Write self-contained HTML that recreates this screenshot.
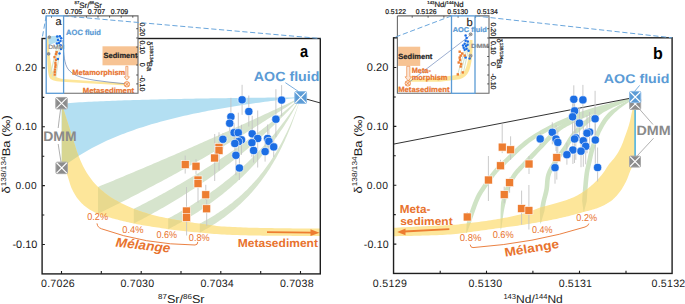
<!DOCTYPE html>
<html><head><meta charset="utf-8"><style>
html,body{margin:0;padding:0;background:#fff;}
body{width:685px;height:304px;overflow:hidden;}
svg{display:block;font-family:"Liberation Sans", sans-serif;text-rendering:geometricPrecision;}
</style></head><body>
<svg xmlns="http://www.w3.org/2000/svg" width="685" height="304" viewBox="0 0 685 304">
<rect width="685" height="304" fill="#fff"/>
<defs><clipPath id="clipA"><rect x="42.1" y="38.5" width="278.2" height="235.39999999999998"/></clipPath>
<clipPath id="blueAc"><path d="M61.50,103.60 L64.49,103.37 L67.48,103.15 L70.47,102.94 L73.46,102.74 L76.45,102.55 L79.44,102.37 L82.43,102.19 L85.42,102.02 L88.41,101.86 L91.40,101.71 L94.39,101.56 L97.38,101.42 L100.37,101.28 L103.36,101.15 L106.35,101.02 L109.34,100.90 L112.33,100.78 L115.32,100.67 L118.31,100.56 L121.30,100.45 L124.29,100.35 L127.28,100.25 L130.27,100.15 L133.26,100.06 L136.25,99.97 L139.24,99.88 L142.23,99.79 L145.22,99.71 L148.21,99.63 L151.20,99.55 L154.19,99.47 L157.18,99.40 L160.17,99.33 L163.16,99.26 L166.15,99.19 L169.14,99.12 L172.13,99.06 L175.12,99.00 L178.11,98.93 L181.10,98.88 L184.09,98.82 L187.08,98.76 L190.07,98.70 L193.06,98.65 L196.05,98.60 L199.04,98.55 L202.03,98.49 L205.02,98.45 L208.01,98.40 L211.00,98.35 L213.99,98.30 L216.98,98.26 L219.97,98.21 L222.96,98.17 L225.95,98.13 L228.94,98.09 L231.93,98.05 L234.92,98.01 L237.91,97.97 L240.90,97.93 L243.89,97.89 L246.88,97.86 L249.87,97.82 L252.86,97.78 L255.85,97.75 L258.84,97.72 L261.83,97.68 L264.82,97.65 L267.81,97.62 L270.80,97.59 L273.79,97.56 L276.78,97.52 L279.77,97.50 L282.76,97.47 L285.75,97.44 L288.74,97.41 L291.73,97.38 L294.72,97.35 L297.71,97.33 L300.70,97.30 L300.70,97.50 L297.71,97.83 L294.73,98.16 L291.74,98.50 L288.75,98.85 L285.76,99.20 L282.78,99.55 L279.79,99.91 L276.80,100.28 L273.81,100.66 L270.82,101.04 L267.84,101.42 L264.85,101.82 L261.86,102.22 L258.88,102.63 L255.89,103.04 L252.90,103.47 L249.91,103.90 L246.93,104.33 L243.94,104.78 L240.95,105.24 L237.96,105.70 L234.98,106.17 L231.99,106.65 L229.00,107.14 L226.01,107.64 L223.03,108.15 L220.04,108.67 L217.05,109.21 L214.06,109.75 L211.07,110.30 L208.09,110.86 L205.10,111.44 L202.11,112.03 L199.12,112.63 L196.14,113.24 L193.15,113.87 L190.16,114.51 L187.18,115.17 L184.19,115.84 L181.20,116.53 L178.21,117.23 L175.22,117.95 L172.24,118.68 L169.25,119.44 L166.26,120.21 L163.28,121.00 L160.29,121.81 L157.30,122.64 L154.31,123.50 L151.32,124.37 L148.34,125.27 L145.35,126.19 L142.36,127.14 L139.38,128.11 L136.39,129.11 L133.40,130.14 L130.41,131.19 L127.43,132.28 L124.44,133.40 L121.45,134.55 L118.46,135.74 L115.47,136.96 L112.49,138.23 L109.50,139.53 L106.51,140.87 L103.53,142.26 L100.54,143.70 L97.55,145.18 L94.56,146.72 L91.58,148.30 L88.59,149.95 L85.60,151.65 L82.61,153.42 L79.62,155.26 L76.64,157.16 L73.65,159.14 L70.66,161.20 L67.67,163.34 L64.69,165.57 L61.70,167.90 Z"/></clipPath>
<clipPath id="yelAc"><path d="M61.90,103.30 L61.91,103.34 L61.94,103.45 L61.99,103.64 L62.07,103.90 L62.16,104.24 L62.27,104.66 L62.41,105.14 L62.57,105.70 L62.74,106.33 L62.94,107.03 L63.16,107.80 L63.40,108.63 L63.66,109.52 L63.94,110.47 L64.24,111.47 L64.56,112.53 L64.91,113.64 L65.27,114.81 L65.66,116.03 L66.06,117.31 L66.49,118.65 L66.94,120.04 L67.41,121.51 L67.89,123.04 L68.40,124.65 L68.94,126.32 L69.49,128.06 L70.06,129.85 L70.65,131.71 L71.27,133.64 L71.90,135.62 L72.56,137.67 L73.23,139.79 L73.93,141.97 L74.65,144.21 L75.39,146.56 L76.15,149.04 L76.93,151.46 L77.73,153.63 L78.55,155.75 L79.39,157.86 L80.26,159.94 L81.14,161.98 L82.05,163.98 L82.97,165.92 L83.92,167.80 L84.89,169.59 L85.88,171.30 L86.89,172.93 L87.92,174.52 L88.97,176.07 L90.04,177.59 L91.13,179.06 L92.25,180.49 L93.38,181.88 L94.54,183.23 L95.71,184.54 L96.91,185.80 L98.13,187.02 L99.37,188.22 L100.62,189.38 L101.90,190.51 L103.21,191.62 L104.53,192.69 L105.87,193.74 L107.23,194.76 L108.62,195.75 L110.02,196.71 L111.45,197.65 L112.89,198.56 L114.36,199.44 L115.85,200.28 L117.36,201.10 L118.89,201.90 L120.44,202.68 L122.01,203.46 L123.60,204.23 L125.22,205.00 L126.85,205.78 L128.50,206.55 L130.18,207.30 L131.88,208.03 L133.59,208.72 L135.33,209.38 L137.09,210.04 L138.87,210.68 L140.67,211.31 L142.49,211.92 L144.33,212.52 L146.20,213.10 L148.08,213.66 L149.99,214.20 L151.91,214.71 L153.86,215.22 L155.82,215.70 L157.81,216.18 L159.82,216.64 L161.85,217.09 L163.90,217.53 L165.97,217.96 L168.06,218.37 L170.17,218.78 L172.31,219.18 L174.46,219.58 L176.64,219.97 L178.83,220.36 L181.05,220.74 L183.29,221.11 L185.55,221.48 L187.83,221.84 L190.12,222.20 L192.45,222.55 L194.79,222.89 L197.15,223.23 L199.53,223.56 L201.94,223.90 L204.36,224.24 L206.81,224.59 L209.27,224.93 L211.76,225.27 L214.27,225.59 L216.80,225.88 L219.35,226.15 L221.92,226.38 L224.51,226.57 L227.12,226.72 L229.75,226.86 L232.41,227.00 L235.08,227.12 L237.78,227.24 L240.49,227.35 L243.23,227.45 L245.99,227.55 L248.77,227.64 L251.57,227.71 L254.39,227.78 L257.23,227.85 L260.09,227.90 L262.97,227.95 L265.88,228.00 L268.80,228.05 L271.75,228.10 L274.71,228.15 L277.70,228.19 L280.71,228.24 L283.74,228.28 L286.79,228.32 L289.86,228.36 L292.95,228.40 L296.06,228.43 L299.19,228.47 L302.34,228.50 L305.52,228.52 L308.71,228.54 L311.93,228.56 L315.17,228.58 L318.42,228.59 L321.70,228.60 L325.00,228.60 L325.00,236.00 L321.70,236.00 L318.42,236.00 L315.16,235.99 L311.92,235.98 L308.70,235.97 L305.50,235.96 L302.33,235.94 L299.17,235.93 L296.04,235.91 L292.92,235.89 L289.83,235.87 L286.76,235.85 L283.70,235.82 L280.67,235.80 L277.66,235.77 L274.68,235.75 L271.71,235.72 L268.76,235.69 L265.83,235.66 L262.93,235.63 L260.04,235.60 L257.18,235.56 L254.33,235.52 L251.51,235.47 L248.71,235.40 L245.93,235.34 L243.17,235.26 L240.43,235.18 L237.71,235.09 L235.01,235.00 L232.34,234.90 L229.68,234.79 L227.05,234.69 L224.43,234.57 L221.84,234.44 L219.27,234.29 L216.72,234.11 L214.19,233.91 L211.68,233.70 L209.19,233.49 L206.72,233.26 L204.27,233.04 L201.84,232.81 L199.44,232.59 L197.05,232.37 L194.69,232.15 L192.34,231.92 L190.02,231.69 L187.72,231.45 L185.44,231.21 L183.18,230.97 L180.94,230.72 L178.72,230.46 L176.52,230.21 L174.35,229.94 L172.19,229.68 L170.06,229.40 L167.94,229.13 L165.85,228.83 L163.78,228.51 L161.73,228.18 L159.69,227.85 L157.68,227.52 L155.69,227.21 L153.73,226.91 L151.78,226.64 L149.85,226.36 L147.95,226.08 L146.06,225.78 L144.20,225.47 L142.35,225.15 L140.53,224.82 L138.73,224.49 L136.95,224.15 L135.19,223.80 L133.45,223.45 L131.73,223.08 L130.03,222.71 L128.36,222.33 L126.70,221.95 L125.06,221.56 L123.45,221.17 L121.86,220.77 L120.28,220.38 L118.73,219.99 L117.20,219.59 L115.69,219.20 L114.20,218.80 L112.73,218.40 L111.29,218.00 L109.86,217.59 L108.45,217.18 L107.07,216.77 L105.70,216.36 L104.36,215.96 L103.04,215.55 L101.74,215.14 L100.45,214.72 L99.19,214.26 L97.95,213.78 L96.74,213.27 L95.54,212.73 L94.36,212.17 L93.21,211.58 L92.07,210.97 L90.96,210.33 L89.86,209.68 L88.79,209.00 L87.74,208.29 L86.71,207.57 L85.70,206.81 L84.71,206.01 L83.74,205.18 L82.79,204.32 L81.86,203.42 L80.96,202.50 L80.07,201.54 L79.21,200.56 L78.36,199.56 L77.54,198.50 L76.74,197.39 L75.96,196.21 L75.20,195.00 L74.46,193.74 L73.74,192.45 L73.04,191.13 L72.36,189.79 L71.71,188.44 L71.07,187.01 L70.46,185.33 L69.87,183.49 L69.29,181.61 L68.74,179.75 L68.21,177.98 L67.70,176.37 L67.21,174.94 L66.74,173.72 L66.29,172.74 L65.87,172.00 L65.46,171.42 L65.07,170.90 L64.71,170.42 L64.37,169.98 L64.04,169.60 L63.74,169.27 L63.46,168.99 L63.20,168.74 L62.96,168.54 L62.74,168.38 L62.54,168.25 L62.37,168.15 L62.21,168.07 L62.07,168.01 L61.96,167.97 L61.87,167.94 L61.79,167.92 L61.74,167.91 L61.71,167.90 L61.70,167.90 Z"/></clipPath>
</defs>
<g clip-path="url(#clipA)">
<path d="M61.50,103.60 L64.49,103.37 L67.48,103.15 L70.47,102.94 L73.46,102.74 L76.45,102.55 L79.44,102.37 L82.43,102.19 L85.42,102.02 L88.41,101.86 L91.40,101.71 L94.39,101.56 L97.38,101.42 L100.37,101.28 L103.36,101.15 L106.35,101.02 L109.34,100.90 L112.33,100.78 L115.32,100.67 L118.31,100.56 L121.30,100.45 L124.29,100.35 L127.28,100.25 L130.27,100.15 L133.26,100.06 L136.25,99.97 L139.24,99.88 L142.23,99.79 L145.22,99.71 L148.21,99.63 L151.20,99.55 L154.19,99.47 L157.18,99.40 L160.17,99.33 L163.16,99.26 L166.15,99.19 L169.14,99.12 L172.13,99.06 L175.12,99.00 L178.11,98.93 L181.10,98.88 L184.09,98.82 L187.08,98.76 L190.07,98.70 L193.06,98.65 L196.05,98.60 L199.04,98.55 L202.03,98.49 L205.02,98.45 L208.01,98.40 L211.00,98.35 L213.99,98.30 L216.98,98.26 L219.97,98.21 L222.96,98.17 L225.95,98.13 L228.94,98.09 L231.93,98.05 L234.92,98.01 L237.91,97.97 L240.90,97.93 L243.89,97.89 L246.88,97.86 L249.87,97.82 L252.86,97.78 L255.85,97.75 L258.84,97.72 L261.83,97.68 L264.82,97.65 L267.81,97.62 L270.80,97.59 L273.79,97.56 L276.78,97.52 L279.77,97.50 L282.76,97.47 L285.75,97.44 L288.74,97.41 L291.73,97.38 L294.72,97.35 L297.71,97.33 L300.70,97.30 L300.70,97.50 L297.71,97.83 L294.73,98.16 L291.74,98.50 L288.75,98.85 L285.76,99.20 L282.78,99.55 L279.79,99.91 L276.80,100.28 L273.81,100.66 L270.82,101.04 L267.84,101.42 L264.85,101.82 L261.86,102.22 L258.88,102.63 L255.89,103.04 L252.90,103.47 L249.91,103.90 L246.93,104.33 L243.94,104.78 L240.95,105.24 L237.96,105.70 L234.98,106.17 L231.99,106.65 L229.00,107.14 L226.01,107.64 L223.03,108.15 L220.04,108.67 L217.05,109.21 L214.06,109.75 L211.07,110.30 L208.09,110.86 L205.10,111.44 L202.11,112.03 L199.12,112.63 L196.14,113.24 L193.15,113.87 L190.16,114.51 L187.18,115.17 L184.19,115.84 L181.20,116.53 L178.21,117.23 L175.22,117.95 L172.24,118.68 L169.25,119.44 L166.26,120.21 L163.28,121.00 L160.29,121.81 L157.30,122.64 L154.31,123.50 L151.32,124.37 L148.34,125.27 L145.35,126.19 L142.36,127.14 L139.38,128.11 L136.39,129.11 L133.40,130.14 L130.41,131.19 L127.43,132.28 L124.44,133.40 L121.45,134.55 L118.46,135.74 L115.47,136.96 L112.49,138.23 L109.50,139.53 L106.51,140.87 L103.53,142.26 L100.54,143.70 L97.55,145.18 L94.56,146.72 L91.58,148.30 L88.59,149.95 L85.60,151.65 L82.61,153.42 L79.62,155.26 L76.64,157.16 L73.65,159.14 L70.66,161.20 L67.67,163.34 L64.69,165.57 L61.70,167.90 Z" fill="#b3dff2"/>
<path d="M98.00,186.90 L100.53,185.86 L103.07,184.82 L105.60,183.77 L108.14,182.73 L110.67,181.68 L113.20,180.63 L115.74,179.58 L118.27,178.53 L120.80,177.47 L123.34,176.42 L125.87,175.36 L128.41,174.30 L130.94,173.23 L133.47,172.17 L136.01,171.10 L138.54,170.04 L141.07,168.97 L143.61,167.89 L146.14,166.82 L148.68,165.74 L151.21,164.67 L153.74,163.59 L156.28,162.51 L158.81,161.42 L161.34,160.34 L163.88,159.25 L166.41,158.16 L168.94,157.07 L171.48,155.98 L174.01,154.88 L176.55,153.78 L179.08,152.69 L181.61,151.58 L184.15,150.48 L186.68,149.38 L189.22,148.27 L191.75,147.16 L194.28,146.05 L196.82,144.94 L199.35,143.82 L201.88,142.70 L204.42,141.59 L206.95,140.46 L209.49,139.34 L212.02,138.22 L214.55,137.09 L217.09,135.96 L219.62,134.83 L222.15,133.69 L224.69,132.56 L227.22,131.42 L229.75,130.28 L232.29,129.14 L234.82,128.00 L237.36,126.85 L239.89,125.70 L242.42,124.55 L244.96,123.40 L247.49,122.24 L250.02,121.09 L252.56,119.93 L255.09,118.77 L257.63,117.61 L260.16,116.44 L262.69,115.27 L265.23,114.10 L267.76,112.93 L270.29,111.76 L272.83,110.58 L275.36,109.40 L277.90,108.22 L280.43,107.04 L282.96,105.86 L285.50,104.67 L288.03,103.48 L290.56,102.29 L293.10,101.09 L295.63,99.90 L298.17,98.70 L300.70,97.50 L300.70,97.50 L298.17,99.21 L295.63,100.91 L293.10,102.60 L290.56,104.28 L288.03,105.96 L285.50,107.63 L282.96,109.29 L280.43,110.95 L277.90,112.59 L275.36,114.23 L272.83,115.87 L270.29,117.49 L267.76,119.11 L265.23,120.73 L262.69,122.33 L260.16,123.93 L257.63,125.52 L255.09,127.11 L252.56,128.69 L250.02,130.26 L247.49,131.83 L244.96,133.38 L242.42,134.94 L239.89,136.48 L237.36,138.02 L234.82,139.56 L232.29,141.08 L229.75,142.60 L227.22,144.12 L224.69,145.62 L222.15,147.13 L219.62,148.62 L217.09,150.11 L214.55,151.59 L212.02,153.07 L209.49,154.54 L206.95,156.01 L204.42,157.46 L201.88,158.92 L199.35,160.36 L196.82,161.81 L194.28,163.24 L191.75,164.67 L189.22,166.10 L186.68,167.51 L184.15,168.93 L181.61,170.33 L179.08,171.73 L176.55,173.13 L174.01,174.52 L171.48,175.90 L168.94,177.28 L166.41,178.66 L163.88,180.03 L161.34,181.39 L158.81,182.75 L156.28,184.10 L153.74,185.45 L151.21,186.79 L148.68,188.12 L146.14,189.45 L143.61,190.78 L141.07,192.10 L138.54,193.42 L136.01,194.73 L133.47,196.03 L130.94,197.33 L128.41,198.63 L125.87,199.92 L123.34,201.21 L120.80,202.49 L118.27,203.76 L115.74,205.04 L113.20,206.30 L110.67,207.56 L108.14,208.82 L105.60,210.07 L103.07,211.32 L100.53,212.56 L98.00,213.80 Z" fill="#d6e4cd"/>
<path d="M133.80,208.80 L135.89,207.75 L137.97,206.70 L140.06,205.64 L142.15,204.57 L144.23,203.50 L146.32,202.42 L148.40,201.33 L150.49,200.24 L152.58,199.14 L154.66,198.03 L156.75,196.91 L158.84,195.79 L160.92,194.66 L163.01,193.52 L165.09,192.38 L167.18,191.23 L169.27,190.07 L171.35,188.90 L173.44,187.72 L175.53,186.54 L177.61,185.35 L179.70,184.15 L181.78,182.94 L183.87,181.73 L185.96,180.50 L188.04,179.27 L190.13,178.03 L192.22,176.78 L194.30,175.52 L196.39,174.26 L198.47,172.98 L200.56,171.70 L202.65,170.41 L204.73,169.11 L206.82,167.79 L208.91,166.47 L210.99,165.15 L213.08,163.81 L215.16,162.46 L217.25,161.10 L219.34,159.73 L221.42,158.35 L223.51,156.97 L225.60,155.57 L227.68,154.16 L229.77,152.74 L231.85,151.32 L233.94,149.88 L236.03,148.43 L238.11,146.97 L240.20,145.50 L242.28,144.01 L244.37,142.52 L246.46,141.02 L248.54,139.50 L250.63,137.97 L252.72,136.43 L254.80,134.88 L256.89,133.32 L258.98,131.75 L261.06,130.16 L263.15,128.56 L265.23,126.95 L267.32,125.32 L269.41,123.69 L271.49,122.04 L273.58,120.38 L275.66,118.70 L277.75,117.01 L279.84,115.31 L281.92,113.59 L284.01,111.86 L286.10,110.12 L288.18,108.36 L290.27,106.59 L292.36,104.80 L294.44,103.00 L296.53,101.18 L298.61,99.35 L300.70,97.50 L300.70,97.50 L298.61,99.80 L296.53,102.08 L294.44,104.33 L292.36,106.55 L290.27,108.75 L288.18,110.93 L286.10,113.07 L284.01,115.20 L281.92,117.30 L279.84,119.38 L277.75,121.43 L275.66,123.47 L273.58,125.48 L271.49,127.46 L269.41,129.43 L267.32,131.38 L265.23,133.30 L263.15,135.20 L261.06,137.09 L258.98,138.95 L256.89,140.80 L254.80,142.62 L252.72,144.43 L250.63,146.22 L248.54,147.99 L246.46,149.74 L244.37,151.47 L242.28,153.19 L240.20,154.89 L238.11,156.57 L236.03,158.24 L233.94,159.89 L231.85,161.52 L229.77,163.13 L227.68,164.74 L225.60,166.32 L223.51,167.89 L221.42,169.45 L219.34,170.99 L217.25,172.51 L215.16,174.02 L213.08,175.52 L210.99,177.00 L208.91,178.47 L206.82,179.92 L204.73,181.37 L202.65,182.79 L200.56,184.21 L198.47,185.61 L196.39,187.00 L194.30,188.38 L192.22,189.74 L190.13,191.10 L188.04,192.44 L185.96,193.76 L183.87,195.08 L181.78,196.39 L179.70,197.68 L177.61,198.96 L175.53,200.23 L173.44,201.49 L171.35,202.74 L169.27,203.98 L167.18,205.21 L165.09,206.43 L163.01,207.63 L160.92,208.83 L158.84,210.02 L156.75,211.19 L154.66,212.36 L152.58,213.52 L150.49,214.67 L148.40,215.80 L146.32,216.93 L144.23,218.05 L142.15,219.16 L140.06,220.27 L137.97,221.36 L135.89,222.44 L133.80,223.52 Z" fill="#d6e4cd"/>
<path d="M168.20,218.40 L169.86,217.52 L171.51,216.63 L173.17,215.73 L174.82,214.82 L176.48,213.90 L178.14,212.97 L179.79,212.03 L181.45,211.08 L183.11,210.12 L184.76,209.15 L186.42,208.17 L188.07,207.17 L189.73,206.17 L191.39,205.16 L193.04,204.13 L194.70,203.09 L196.36,202.04 L198.01,200.98 L199.67,199.90 L201.32,198.81 L202.98,197.71 L204.64,196.60 L206.29,195.47 L207.95,194.33 L209.61,193.18 L211.26,192.01 L212.92,190.83 L214.57,189.63 L216.23,188.42 L217.89,187.19 L219.54,185.95 L221.20,184.69 L222.86,183.41 L224.51,182.12 L226.17,180.82 L227.82,179.49 L229.48,178.15 L231.14,176.79 L232.79,175.41 L234.45,174.02 L236.11,172.61 L237.76,171.17 L239.42,169.72 L241.07,168.25 L242.73,166.76 L244.39,165.24 L246.04,163.71 L247.70,162.15 L249.36,160.57 L251.01,158.97 L252.67,157.35 L254.32,155.70 L255.98,154.03 L257.64,152.34 L259.29,150.62 L260.95,148.87 L262.61,147.10 L264.26,145.30 L265.92,143.48 L267.57,141.62 L269.23,139.74 L270.89,137.83 L272.54,135.89 L274.20,133.92 L275.86,131.91 L277.51,129.88 L279.17,127.81 L280.82,125.70 L282.48,123.57 L284.14,121.39 L285.79,119.18 L287.45,116.94 L289.11,114.65 L290.76,112.33 L292.42,109.96 L294.07,107.56 L295.73,105.11 L297.39,102.62 L299.04,100.08 L300.70,97.50 L300.70,97.50 L299.04,100.63 L297.39,103.69 L295.73,106.68 L294.07,109.60 L292.42,112.46 L290.76,115.26 L289.11,118.00 L287.45,120.68 L285.79,123.30 L284.14,125.88 L282.48,128.39 L280.82,130.86 L279.17,133.28 L277.51,135.65 L275.86,137.97 L274.20,140.25 L272.54,142.48 L270.89,144.67 L269.23,146.82 L267.57,148.93 L265.92,151.00 L264.26,153.03 L262.61,155.03 L260.95,156.99 L259.29,158.91 L257.64,160.80 L255.98,162.65 L254.32,164.48 L252.67,166.27 L251.01,168.03 L249.36,169.76 L247.70,171.47 L246.04,173.14 L244.39,174.79 L242.73,176.41 L241.07,178.00 L239.42,179.57 L237.76,181.11 L236.11,182.63 L234.45,184.12 L232.79,185.59 L231.14,187.04 L229.48,188.46 L227.82,189.86 L226.17,191.25 L224.51,192.61 L222.86,193.95 L221.20,195.27 L219.54,196.57 L217.89,197.85 L216.23,199.11 L214.57,200.36 L212.92,201.59 L211.26,202.80 L209.61,203.99 L207.95,205.17 L206.29,206.33 L204.64,207.47 L202.98,208.60 L201.32,209.71 L199.67,210.81 L198.01,211.89 L196.36,212.96 L194.70,214.01 L193.04,215.05 L191.39,216.08 L189.73,217.09 L188.07,218.09 L186.42,219.08 L184.76,220.06 L183.11,221.02 L181.45,221.97 L179.79,222.91 L178.14,223.83 L176.48,224.75 L174.82,225.65 L173.17,226.55 L171.51,227.43 L169.86,228.30 L168.20,229.16 Z" fill="#d6e4cd"/>
<path d="M199.80,223.60 L201.06,222.93 L202.32,222.26 L203.58,221.57 L204.84,220.87 L206.11,220.17 L207.37,219.45 L208.63,218.72 L209.89,217.98 L211.15,217.23 L212.41,216.46 L213.67,215.69 L214.94,214.90 L216.20,214.10 L217.46,213.28 L218.72,212.46 L219.98,211.62 L221.24,210.76 L222.50,209.90 L223.76,209.01 L225.03,208.11 L226.29,207.20 L227.55,206.27 L228.81,205.33 L230.07,204.36 L231.33,203.39 L232.59,202.39 L233.85,201.37 L235.12,200.34 L236.38,199.29 L237.64,198.22 L238.90,197.13 L240.16,196.02 L241.42,194.88 L242.68,193.73 L243.94,192.55 L245.21,191.35 L246.47,190.13 L247.73,188.88 L248.99,187.60 L250.25,186.30 L251.51,184.98 L252.77,183.62 L254.03,182.24 L255.30,180.83 L256.56,179.38 L257.82,177.91 L259.08,176.40 L260.34,174.86 L261.60,173.29 L262.86,171.68 L264.12,170.03 L265.38,168.34 L266.65,166.62 L267.91,164.85 L269.17,163.04 L270.43,161.19 L271.69,159.29 L272.95,157.34 L274.21,155.34 L275.48,153.30 L276.74,151.20 L278.00,149.04 L279.26,146.83 L280.52,144.55 L281.78,142.22 L283.04,139.82 L284.30,137.35 L285.56,134.81 L286.83,132.19 L288.09,129.51 L289.35,126.73 L290.61,123.88 L291.87,120.94 L293.13,117.90 L294.39,114.77 L295.65,111.54 L296.92,108.20 L298.18,104.76 L299.44,101.19 L300.70,97.50 L300.70,97.50 L299.44,101.65 L298.18,105.64 L296.92,109.49 L295.65,113.21 L294.39,116.80 L293.13,120.27 L291.87,123.63 L290.61,126.88 L289.35,130.02 L288.09,133.06 L286.83,136.01 L285.56,138.87 L284.30,141.64 L283.04,144.33 L281.78,146.94 L280.52,149.47 L279.26,151.94 L278.00,154.33 L276.74,156.66 L275.48,158.92 L274.21,161.12 L272.95,163.27 L271.69,165.36 L270.43,167.39 L269.17,169.38 L267.91,171.31 L266.65,173.19 L265.38,175.03 L264.12,176.83 L262.86,178.58 L261.60,180.29 L260.34,181.95 L259.08,183.58 L257.82,185.18 L256.56,186.74 L255.30,188.26 L254.03,189.75 L252.77,191.20 L251.51,192.63 L250.25,194.02 L248.99,195.38 L247.73,196.72 L246.47,198.03 L245.21,199.31 L243.94,200.56 L242.68,201.79 L241.42,203.00 L240.16,204.18 L238.90,205.34 L237.64,206.47 L236.38,207.59 L235.12,208.68 L233.85,209.75 L232.59,210.81 L231.33,211.84 L230.07,212.85 L228.81,213.85 L227.55,214.83 L226.29,215.79 L225.03,216.73 L223.76,217.66 L222.50,218.57 L221.24,219.46 L219.98,220.34 L218.72,221.21 L217.46,222.06 L216.20,222.90 L214.94,223.72 L213.67,224.53 L212.41,225.32 L211.15,226.11 L209.89,226.88 L208.63,227.64 L207.37,228.38 L206.11,229.12 L204.84,229.84 L203.58,230.55 L202.32,231.26 L201.06,231.95 L199.80,232.63 Z" fill="#d6e4cd"/>
<path d="M61.90,103.30 L61.91,103.34 L61.94,103.45 L61.99,103.64 L62.07,103.90 L62.16,104.24 L62.27,104.66 L62.41,105.14 L62.57,105.70 L62.74,106.33 L62.94,107.03 L63.16,107.80 L63.40,108.63 L63.66,109.52 L63.94,110.47 L64.24,111.47 L64.56,112.53 L64.91,113.64 L65.27,114.81 L65.66,116.03 L66.06,117.31 L66.49,118.65 L66.94,120.04 L67.41,121.51 L67.89,123.04 L68.40,124.65 L68.94,126.32 L69.49,128.06 L70.06,129.85 L70.65,131.71 L71.27,133.64 L71.90,135.62 L72.56,137.67 L73.23,139.79 L73.93,141.97 L74.65,144.21 L75.39,146.56 L76.15,149.04 L76.93,151.46 L77.73,153.63 L78.55,155.75 L79.39,157.86 L80.26,159.94 L81.14,161.98 L82.05,163.98 L82.97,165.92 L83.92,167.80 L84.89,169.59 L85.88,171.30 L86.89,172.93 L87.92,174.52 L88.97,176.07 L90.04,177.59 L91.13,179.06 L92.25,180.49 L93.38,181.88 L94.54,183.23 L95.71,184.54 L96.91,185.80 L98.13,187.02 L99.37,188.22 L100.62,189.38 L101.90,190.51 L103.21,191.62 L104.53,192.69 L105.87,193.74 L107.23,194.76 L108.62,195.75 L110.02,196.71 L111.45,197.65 L112.89,198.56 L114.36,199.44 L115.85,200.28 L117.36,201.10 L118.89,201.90 L120.44,202.68 L122.01,203.46 L123.60,204.23 L125.22,205.00 L126.85,205.78 L128.50,206.55 L130.18,207.30 L131.88,208.03 L133.59,208.72 L135.33,209.38 L137.09,210.04 L138.87,210.68 L140.67,211.31 L142.49,211.92 L144.33,212.52 L146.20,213.10 L148.08,213.66 L149.99,214.20 L151.91,214.71 L153.86,215.22 L155.82,215.70 L157.81,216.18 L159.82,216.64 L161.85,217.09 L163.90,217.53 L165.97,217.96 L168.06,218.37 L170.17,218.78 L172.31,219.18 L174.46,219.58 L176.64,219.97 L178.83,220.36 L181.05,220.74 L183.29,221.11 L185.55,221.48 L187.83,221.84 L190.12,222.20 L192.45,222.55 L194.79,222.89 L197.15,223.23 L199.53,223.56 L201.94,223.90 L204.36,224.24 L206.81,224.59 L209.27,224.93 L211.76,225.27 L214.27,225.59 L216.80,225.88 L219.35,226.15 L221.92,226.38 L224.51,226.57 L227.12,226.72 L229.75,226.86 L232.41,227.00 L235.08,227.12 L237.78,227.24 L240.49,227.35 L243.23,227.45 L245.99,227.55 L248.77,227.64 L251.57,227.71 L254.39,227.78 L257.23,227.85 L260.09,227.90 L262.97,227.95 L265.88,228.00 L268.80,228.05 L271.75,228.10 L274.71,228.15 L277.70,228.19 L280.71,228.24 L283.74,228.28 L286.79,228.32 L289.86,228.36 L292.95,228.40 L296.06,228.43 L299.19,228.47 L302.34,228.50 L305.52,228.52 L308.71,228.54 L311.93,228.56 L315.17,228.58 L318.42,228.59 L321.70,228.60 L325.00,228.60 L325.00,236.00 L321.70,236.00 L318.42,236.00 L315.16,235.99 L311.92,235.98 L308.70,235.97 L305.50,235.96 L302.33,235.94 L299.17,235.93 L296.04,235.91 L292.92,235.89 L289.83,235.87 L286.76,235.85 L283.70,235.82 L280.67,235.80 L277.66,235.77 L274.68,235.75 L271.71,235.72 L268.76,235.69 L265.83,235.66 L262.93,235.63 L260.04,235.60 L257.18,235.56 L254.33,235.52 L251.51,235.47 L248.71,235.40 L245.93,235.34 L243.17,235.26 L240.43,235.18 L237.71,235.09 L235.01,235.00 L232.34,234.90 L229.68,234.79 L227.05,234.69 L224.43,234.57 L221.84,234.44 L219.27,234.29 L216.72,234.11 L214.19,233.91 L211.68,233.70 L209.19,233.49 L206.72,233.26 L204.27,233.04 L201.84,232.81 L199.44,232.59 L197.05,232.37 L194.69,232.15 L192.34,231.92 L190.02,231.69 L187.72,231.45 L185.44,231.21 L183.18,230.97 L180.94,230.72 L178.72,230.46 L176.52,230.21 L174.35,229.94 L172.19,229.68 L170.06,229.40 L167.94,229.13 L165.85,228.83 L163.78,228.51 L161.73,228.18 L159.69,227.85 L157.68,227.52 L155.69,227.21 L153.73,226.91 L151.78,226.64 L149.85,226.36 L147.95,226.08 L146.06,225.78 L144.20,225.47 L142.35,225.15 L140.53,224.82 L138.73,224.49 L136.95,224.15 L135.19,223.80 L133.45,223.45 L131.73,223.08 L130.03,222.71 L128.36,222.33 L126.70,221.95 L125.06,221.56 L123.45,221.17 L121.86,220.77 L120.28,220.38 L118.73,219.99 L117.20,219.59 L115.69,219.20 L114.20,218.80 L112.73,218.40 L111.29,218.00 L109.86,217.59 L108.45,217.18 L107.07,216.77 L105.70,216.36 L104.36,215.96 L103.04,215.55 L101.74,215.14 L100.45,214.72 L99.19,214.26 L97.95,213.78 L96.74,213.27 L95.54,212.73 L94.36,212.17 L93.21,211.58 L92.07,210.97 L90.96,210.33 L89.86,209.68 L88.79,209.00 L87.74,208.29 L86.71,207.57 L85.70,206.81 L84.71,206.01 L83.74,205.18 L82.79,204.32 L81.86,203.42 L80.96,202.50 L80.07,201.54 L79.21,200.56 L78.36,199.56 L77.54,198.50 L76.74,197.39 L75.96,196.21 L75.20,195.00 L74.46,193.74 L73.74,192.45 L73.04,191.13 L72.36,189.79 L71.71,188.44 L71.07,187.01 L70.46,185.33 L69.87,183.49 L69.29,181.61 L68.74,179.75 L68.21,177.98 L67.70,176.37 L67.21,174.94 L66.74,173.72 L66.29,172.74 L65.87,172.00 L65.46,171.42 L65.07,170.90 L64.71,170.42 L64.37,169.98 L64.04,169.60 L63.74,169.27 L63.46,168.99 L63.20,168.74 L62.96,168.54 L62.74,168.38 L62.54,168.25 L62.37,168.15 L62.21,168.07 L62.07,168.01 L61.96,167.97 L61.87,167.94 L61.79,167.92 L61.74,167.91 L61.71,167.90 L61.70,167.90 Z" fill="#fde69a"/>
<g clip-path="url(#yelAc)">
<path d="M61.50,103.60 L64.49,103.37 L67.48,103.15 L70.47,102.94 L73.46,102.74 L76.45,102.55 L79.44,102.37 L82.43,102.19 L85.42,102.02 L88.41,101.86 L91.40,101.71 L94.39,101.56 L97.38,101.42 L100.37,101.28 L103.36,101.15 L106.35,101.02 L109.34,100.90 L112.33,100.78 L115.32,100.67 L118.31,100.56 L121.30,100.45 L124.29,100.35 L127.28,100.25 L130.27,100.15 L133.26,100.06 L136.25,99.97 L139.24,99.88 L142.23,99.79 L145.22,99.71 L148.21,99.63 L151.20,99.55 L154.19,99.47 L157.18,99.40 L160.17,99.33 L163.16,99.26 L166.15,99.19 L169.14,99.12 L172.13,99.06 L175.12,99.00 L178.11,98.93 L181.10,98.88 L184.09,98.82 L187.08,98.76 L190.07,98.70 L193.06,98.65 L196.05,98.60 L199.04,98.55 L202.03,98.49 L205.02,98.45 L208.01,98.40 L211.00,98.35 L213.99,98.30 L216.98,98.26 L219.97,98.21 L222.96,98.17 L225.95,98.13 L228.94,98.09 L231.93,98.05 L234.92,98.01 L237.91,97.97 L240.90,97.93 L243.89,97.89 L246.88,97.86 L249.87,97.82 L252.86,97.78 L255.85,97.75 L258.84,97.72 L261.83,97.68 L264.82,97.65 L267.81,97.62 L270.80,97.59 L273.79,97.56 L276.78,97.52 L279.77,97.50 L282.76,97.47 L285.75,97.44 L288.74,97.41 L291.73,97.38 L294.72,97.35 L297.71,97.33 L300.70,97.30 L300.70,97.50 L297.71,97.83 L294.73,98.16 L291.74,98.50 L288.75,98.85 L285.76,99.20 L282.78,99.55 L279.79,99.91 L276.80,100.28 L273.81,100.66 L270.82,101.04 L267.84,101.42 L264.85,101.82 L261.86,102.22 L258.88,102.63 L255.89,103.04 L252.90,103.47 L249.91,103.90 L246.93,104.33 L243.94,104.78 L240.95,105.24 L237.96,105.70 L234.98,106.17 L231.99,106.65 L229.00,107.14 L226.01,107.64 L223.03,108.15 L220.04,108.67 L217.05,109.21 L214.06,109.75 L211.07,110.30 L208.09,110.86 L205.10,111.44 L202.11,112.03 L199.12,112.63 L196.14,113.24 L193.15,113.87 L190.16,114.51 L187.18,115.17 L184.19,115.84 L181.20,116.53 L178.21,117.23 L175.22,117.95 L172.24,118.68 L169.25,119.44 L166.26,120.21 L163.28,121.00 L160.29,121.81 L157.30,122.64 L154.31,123.50 L151.32,124.37 L148.34,125.27 L145.35,126.19 L142.36,127.14 L139.38,128.11 L136.39,129.11 L133.40,130.14 L130.41,131.19 L127.43,132.28 L124.44,133.40 L121.45,134.55 L118.46,135.74 L115.47,136.96 L112.49,138.23 L109.50,139.53 L106.51,140.87 L103.53,142.26 L100.54,143.70 L97.55,145.18 L94.56,146.72 L91.58,148.30 L88.59,149.95 L85.60,151.65 L82.61,153.42 L79.62,155.26 L76.64,157.16 L73.65,159.14 L70.66,161.20 L67.67,163.34 L64.69,165.57 L61.70,167.90 Z" fill="#d7d692"/>
<path d="M98.00,186.90 L100.53,185.86 L103.07,184.82 L105.60,183.77 L108.14,182.73 L110.67,181.68 L113.20,180.63 L115.74,179.58 L118.27,178.53 L120.80,177.47 L123.34,176.42 L125.87,175.36 L128.41,174.30 L130.94,173.23 L133.47,172.17 L136.01,171.10 L138.54,170.04 L141.07,168.97 L143.61,167.89 L146.14,166.82 L148.68,165.74 L151.21,164.67 L153.74,163.59 L156.28,162.51 L158.81,161.42 L161.34,160.34 L163.88,159.25 L166.41,158.16 L168.94,157.07 L171.48,155.98 L174.01,154.88 L176.55,153.78 L179.08,152.69 L181.61,151.58 L184.15,150.48 L186.68,149.38 L189.22,148.27 L191.75,147.16 L194.28,146.05 L196.82,144.94 L199.35,143.82 L201.88,142.70 L204.42,141.59 L206.95,140.46 L209.49,139.34 L212.02,138.22 L214.55,137.09 L217.09,135.96 L219.62,134.83 L222.15,133.69 L224.69,132.56 L227.22,131.42 L229.75,130.28 L232.29,129.14 L234.82,128.00 L237.36,126.85 L239.89,125.70 L242.42,124.55 L244.96,123.40 L247.49,122.24 L250.02,121.09 L252.56,119.93 L255.09,118.77 L257.63,117.61 L260.16,116.44 L262.69,115.27 L265.23,114.10 L267.76,112.93 L270.29,111.76 L272.83,110.58 L275.36,109.40 L277.90,108.22 L280.43,107.04 L282.96,105.86 L285.50,104.67 L288.03,103.48 L290.56,102.29 L293.10,101.09 L295.63,99.90 L298.17,98.70 L300.70,97.50 L300.70,97.50 L298.17,99.21 L295.63,100.91 L293.10,102.60 L290.56,104.28 L288.03,105.96 L285.50,107.63 L282.96,109.29 L280.43,110.95 L277.90,112.59 L275.36,114.23 L272.83,115.87 L270.29,117.49 L267.76,119.11 L265.23,120.73 L262.69,122.33 L260.16,123.93 L257.63,125.52 L255.09,127.11 L252.56,128.69 L250.02,130.26 L247.49,131.83 L244.96,133.38 L242.42,134.94 L239.89,136.48 L237.36,138.02 L234.82,139.56 L232.29,141.08 L229.75,142.60 L227.22,144.12 L224.69,145.62 L222.15,147.13 L219.62,148.62 L217.09,150.11 L214.55,151.59 L212.02,153.07 L209.49,154.54 L206.95,156.01 L204.42,157.46 L201.88,158.92 L199.35,160.36 L196.82,161.81 L194.28,163.24 L191.75,164.67 L189.22,166.10 L186.68,167.51 L184.15,168.93 L181.61,170.33 L179.08,171.73 L176.55,173.13 L174.01,174.52 L171.48,175.90 L168.94,177.28 L166.41,178.66 L163.88,180.03 L161.34,181.39 L158.81,182.75 L156.28,184.10 L153.74,185.45 L151.21,186.79 L148.68,188.12 L146.14,189.45 L143.61,190.78 L141.07,192.10 L138.54,193.42 L136.01,194.73 L133.47,196.03 L130.94,197.33 L128.41,198.63 L125.87,199.92 L123.34,201.21 L120.80,202.49 L118.27,203.76 L115.74,205.04 L113.20,206.30 L110.67,207.56 L108.14,208.82 L105.60,210.07 L103.07,211.32 L100.53,212.56 L98.00,213.80 Z" fill="#e8d98e"/>
<path d="M133.80,208.80 L135.89,207.75 L137.97,206.70 L140.06,205.64 L142.15,204.57 L144.23,203.50 L146.32,202.42 L148.40,201.33 L150.49,200.24 L152.58,199.14 L154.66,198.03 L156.75,196.91 L158.84,195.79 L160.92,194.66 L163.01,193.52 L165.09,192.38 L167.18,191.23 L169.27,190.07 L171.35,188.90 L173.44,187.72 L175.53,186.54 L177.61,185.35 L179.70,184.15 L181.78,182.94 L183.87,181.73 L185.96,180.50 L188.04,179.27 L190.13,178.03 L192.22,176.78 L194.30,175.52 L196.39,174.26 L198.47,172.98 L200.56,171.70 L202.65,170.41 L204.73,169.11 L206.82,167.79 L208.91,166.47 L210.99,165.15 L213.08,163.81 L215.16,162.46 L217.25,161.10 L219.34,159.73 L221.42,158.35 L223.51,156.97 L225.60,155.57 L227.68,154.16 L229.77,152.74 L231.85,151.32 L233.94,149.88 L236.03,148.43 L238.11,146.97 L240.20,145.50 L242.28,144.01 L244.37,142.52 L246.46,141.02 L248.54,139.50 L250.63,137.97 L252.72,136.43 L254.80,134.88 L256.89,133.32 L258.98,131.75 L261.06,130.16 L263.15,128.56 L265.23,126.95 L267.32,125.32 L269.41,123.69 L271.49,122.04 L273.58,120.38 L275.66,118.70 L277.75,117.01 L279.84,115.31 L281.92,113.59 L284.01,111.86 L286.10,110.12 L288.18,108.36 L290.27,106.59 L292.36,104.80 L294.44,103.00 L296.53,101.18 L298.61,99.35 L300.70,97.50 L300.70,97.50 L298.61,99.80 L296.53,102.08 L294.44,104.33 L292.36,106.55 L290.27,108.75 L288.18,110.93 L286.10,113.07 L284.01,115.20 L281.92,117.30 L279.84,119.38 L277.75,121.43 L275.66,123.47 L273.58,125.48 L271.49,127.46 L269.41,129.43 L267.32,131.38 L265.23,133.30 L263.15,135.20 L261.06,137.09 L258.98,138.95 L256.89,140.80 L254.80,142.62 L252.72,144.43 L250.63,146.22 L248.54,147.99 L246.46,149.74 L244.37,151.47 L242.28,153.19 L240.20,154.89 L238.11,156.57 L236.03,158.24 L233.94,159.89 L231.85,161.52 L229.77,163.13 L227.68,164.74 L225.60,166.32 L223.51,167.89 L221.42,169.45 L219.34,170.99 L217.25,172.51 L215.16,174.02 L213.08,175.52 L210.99,177.00 L208.91,178.47 L206.82,179.92 L204.73,181.37 L202.65,182.79 L200.56,184.21 L198.47,185.61 L196.39,187.00 L194.30,188.38 L192.22,189.74 L190.13,191.10 L188.04,192.44 L185.96,193.76 L183.87,195.08 L181.78,196.39 L179.70,197.68 L177.61,198.96 L175.53,200.23 L173.44,201.49 L171.35,202.74 L169.27,203.98 L167.18,205.21 L165.09,206.43 L163.01,207.63 L160.92,208.83 L158.84,210.02 L156.75,211.19 L154.66,212.36 L152.58,213.52 L150.49,214.67 L148.40,215.80 L146.32,216.93 L144.23,218.05 L142.15,219.16 L140.06,220.27 L137.97,221.36 L135.89,222.44 L133.80,223.52 Z" fill="#e8d98e"/>
<path d="M168.20,218.40 L169.86,217.52 L171.51,216.63 L173.17,215.73 L174.82,214.82 L176.48,213.90 L178.14,212.97 L179.79,212.03 L181.45,211.08 L183.11,210.12 L184.76,209.15 L186.42,208.17 L188.07,207.17 L189.73,206.17 L191.39,205.16 L193.04,204.13 L194.70,203.09 L196.36,202.04 L198.01,200.98 L199.67,199.90 L201.32,198.81 L202.98,197.71 L204.64,196.60 L206.29,195.47 L207.95,194.33 L209.61,193.18 L211.26,192.01 L212.92,190.83 L214.57,189.63 L216.23,188.42 L217.89,187.19 L219.54,185.95 L221.20,184.69 L222.86,183.41 L224.51,182.12 L226.17,180.82 L227.82,179.49 L229.48,178.15 L231.14,176.79 L232.79,175.41 L234.45,174.02 L236.11,172.61 L237.76,171.17 L239.42,169.72 L241.07,168.25 L242.73,166.76 L244.39,165.24 L246.04,163.71 L247.70,162.15 L249.36,160.57 L251.01,158.97 L252.67,157.35 L254.32,155.70 L255.98,154.03 L257.64,152.34 L259.29,150.62 L260.95,148.87 L262.61,147.10 L264.26,145.30 L265.92,143.48 L267.57,141.62 L269.23,139.74 L270.89,137.83 L272.54,135.89 L274.20,133.92 L275.86,131.91 L277.51,129.88 L279.17,127.81 L280.82,125.70 L282.48,123.57 L284.14,121.39 L285.79,119.18 L287.45,116.94 L289.11,114.65 L290.76,112.33 L292.42,109.96 L294.07,107.56 L295.73,105.11 L297.39,102.62 L299.04,100.08 L300.70,97.50 L300.70,97.50 L299.04,100.63 L297.39,103.69 L295.73,106.68 L294.07,109.60 L292.42,112.46 L290.76,115.26 L289.11,118.00 L287.45,120.68 L285.79,123.30 L284.14,125.88 L282.48,128.39 L280.82,130.86 L279.17,133.28 L277.51,135.65 L275.86,137.97 L274.20,140.25 L272.54,142.48 L270.89,144.67 L269.23,146.82 L267.57,148.93 L265.92,151.00 L264.26,153.03 L262.61,155.03 L260.95,156.99 L259.29,158.91 L257.64,160.80 L255.98,162.65 L254.32,164.48 L252.67,166.27 L251.01,168.03 L249.36,169.76 L247.70,171.47 L246.04,173.14 L244.39,174.79 L242.73,176.41 L241.07,178.00 L239.42,179.57 L237.76,181.11 L236.11,182.63 L234.45,184.12 L232.79,185.59 L231.14,187.04 L229.48,188.46 L227.82,189.86 L226.17,191.25 L224.51,192.61 L222.86,193.95 L221.20,195.27 L219.54,196.57 L217.89,197.85 L216.23,199.11 L214.57,200.36 L212.92,201.59 L211.26,202.80 L209.61,203.99 L207.95,205.17 L206.29,206.33 L204.64,207.47 L202.98,208.60 L201.32,209.71 L199.67,210.81 L198.01,211.89 L196.36,212.96 L194.70,214.01 L193.04,215.05 L191.39,216.08 L189.73,217.09 L188.07,218.09 L186.42,219.08 L184.76,220.06 L183.11,221.02 L181.45,221.97 L179.79,222.91 L178.14,223.83 L176.48,224.75 L174.82,225.65 L173.17,226.55 L171.51,227.43 L169.86,228.30 L168.20,229.16 Z" fill="#e8d98e"/>
<path d="M199.80,223.60 L201.06,222.93 L202.32,222.26 L203.58,221.57 L204.84,220.87 L206.11,220.17 L207.37,219.45 L208.63,218.72 L209.89,217.98 L211.15,217.23 L212.41,216.46 L213.67,215.69 L214.94,214.90 L216.20,214.10 L217.46,213.28 L218.72,212.46 L219.98,211.62 L221.24,210.76 L222.50,209.90 L223.76,209.01 L225.03,208.11 L226.29,207.20 L227.55,206.27 L228.81,205.33 L230.07,204.36 L231.33,203.39 L232.59,202.39 L233.85,201.37 L235.12,200.34 L236.38,199.29 L237.64,198.22 L238.90,197.13 L240.16,196.02 L241.42,194.88 L242.68,193.73 L243.94,192.55 L245.21,191.35 L246.47,190.13 L247.73,188.88 L248.99,187.60 L250.25,186.30 L251.51,184.98 L252.77,183.62 L254.03,182.24 L255.30,180.83 L256.56,179.38 L257.82,177.91 L259.08,176.40 L260.34,174.86 L261.60,173.29 L262.86,171.68 L264.12,170.03 L265.38,168.34 L266.65,166.62 L267.91,164.85 L269.17,163.04 L270.43,161.19 L271.69,159.29 L272.95,157.34 L274.21,155.34 L275.48,153.30 L276.74,151.20 L278.00,149.04 L279.26,146.83 L280.52,144.55 L281.78,142.22 L283.04,139.82 L284.30,137.35 L285.56,134.81 L286.83,132.19 L288.09,129.51 L289.35,126.73 L290.61,123.88 L291.87,120.94 L293.13,117.90 L294.39,114.77 L295.65,111.54 L296.92,108.20 L298.18,104.76 L299.44,101.19 L300.70,97.50 L300.70,97.50 L299.44,101.65 L298.18,105.64 L296.92,109.49 L295.65,113.21 L294.39,116.80 L293.13,120.27 L291.87,123.63 L290.61,126.88 L289.35,130.02 L288.09,133.06 L286.83,136.01 L285.56,138.87 L284.30,141.64 L283.04,144.33 L281.78,146.94 L280.52,149.47 L279.26,151.94 L278.00,154.33 L276.74,156.66 L275.48,158.92 L274.21,161.12 L272.95,163.27 L271.69,165.36 L270.43,167.39 L269.17,169.38 L267.91,171.31 L266.65,173.19 L265.38,175.03 L264.12,176.83 L262.86,178.58 L261.60,180.29 L260.34,181.95 L259.08,183.58 L257.82,185.18 L256.56,186.74 L255.30,188.26 L254.03,189.75 L252.77,191.20 L251.51,192.63 L250.25,194.02 L248.99,195.38 L247.73,196.72 L246.47,198.03 L245.21,199.31 L243.94,200.56 L242.68,201.79 L241.42,203.00 L240.16,204.18 L238.90,205.34 L237.64,206.47 L236.38,207.59 L235.12,208.68 L233.85,209.75 L232.59,210.81 L231.33,211.84 L230.07,212.85 L228.81,213.85 L227.55,214.83 L226.29,215.79 L225.03,216.73 L223.76,217.66 L222.50,218.57 L221.24,219.46 L219.98,220.34 L218.72,221.21 L217.46,222.06 L216.20,222.90 L214.94,223.72 L213.67,224.53 L212.41,225.32 L211.15,226.11 L209.89,226.88 L208.63,227.64 L207.37,228.38 L206.11,229.12 L204.84,229.84 L203.58,230.55 L202.32,231.26 L201.06,231.95 L199.80,232.63 Z" fill="#e8d98e"/>
</g>
</g>
<path d="M60.6,109 Q59.3,118 58.2,128 M58.2,144 Q59.5,153 61,162" fill="none" stroke="#7a7a7a" stroke-width="0.6"/>
<path d="M300.7,97.5 L320.5,103" stroke="#333" stroke-width="1"/>
<path d="M242.1,84.8 V114.8 M281.6,85.1 V116.1 M248.8,95.5 V126.5 M230.9,97.8 V124.8 M229.7,113.3 V133.3 M275.9,89.2 V137.2 M222.9,133.3 V149.3 M234.1,122.7 V144.7 M238.3,112.7 V146.7 M241.5,124.8 V154.8 M238.5,127.6 V155.6 M234.8,131.5 V155.5 M252.2,115.8 V143.8 M257.7,110.5 V167.5 M251.9,128.8 V156.8 M267.6,124.5 V146.5 M268.9,129.4 V153.4 M273.7,139.9 V156.9 M253.6,140.5 V162.5 M265.1,139.6 V161.6 M235.9,143.3 V175.3 M239.4,154.0 V180.0 M185.2,155.6 V173.6 M196.0,159.2 V174.2 M198.0,174.0 V186.0 M198.0,179.6 V202.6 M219.0,132.3 V151.3 M219.0,147.5 V170.5 M214.7,134.0 V181.0 M205.8,184.8 V199.8 M206.7,199.8 V225.8 M186.5,187.0 V215.0 M186.6,213.5 V235.5" stroke="#c4c4c4" stroke-width="0.9" fill="none"/>
<rect x="181.20" y="160.60" width="8" height="8" fill="#ed7d31" stroke="#fff" stroke-width="0.6"/>
<rect x="192.00" y="162.20" width="8" height="8" fill="#ed7d31" stroke="#fff" stroke-width="0.6"/>
<rect x="194.00" y="176.00" width="8" height="8" fill="#ed7d31" stroke="#fff" stroke-width="0.6"/>
<rect x="194.00" y="179.60" width="8" height="8" fill="#ed7d31" stroke="#fff" stroke-width="0.6"/>
<rect x="215.00" y="143.30" width="8" height="8" fill="#ed7d31" stroke="#fff" stroke-width="0.6"/>
<rect x="215.00" y="146.50" width="8" height="8" fill="#ed7d31" stroke="#fff" stroke-width="0.6"/>
<rect x="210.70" y="154.00" width="8" height="8" fill="#ed7d31" stroke="#fff" stroke-width="0.6"/>
<rect x="201.80" y="190.80" width="8" height="8" fill="#ed7d31" stroke="#fff" stroke-width="0.6"/>
<rect x="202.70" y="204.80" width="8" height="8" fill="#ed7d31" stroke="#fff" stroke-width="0.6"/>
<rect x="182.50" y="207.00" width="8" height="8" fill="#ed7d31" stroke="#fff" stroke-width="0.6"/>
<rect x="182.60" y="213.50" width="8" height="8" fill="#ed7d31" stroke="#fff" stroke-width="0.6"/>
<circle cx="242.10" cy="99.80" r="4.1" fill="#1c6ee4" stroke="#fff" stroke-width="0.6"/>
<circle cx="281.60" cy="100.10" r="4.1" fill="#1c6ee4" stroke="#fff" stroke-width="0.6"/>
<circle cx="248.80" cy="111.50" r="4.1" fill="#1c6ee4" stroke="#fff" stroke-width="0.6"/>
<circle cx="230.90" cy="116.80" r="4.1" fill="#1c6ee4" stroke="#fff" stroke-width="0.6"/>
<circle cx="229.70" cy="123.30" r="4.1" fill="#1c6ee4" stroke="#fff" stroke-width="0.6"/>
<circle cx="275.90" cy="119.20" r="4.1" fill="#1c6ee4" stroke="#fff" stroke-width="0.6"/>
<circle cx="222.90" cy="139.30" r="4.1" fill="#1c6ee4" stroke="#fff" stroke-width="0.6"/>
<circle cx="234.10" cy="132.70" r="4.1" fill="#1c6ee4" stroke="#fff" stroke-width="0.6"/>
<circle cx="238.30" cy="132.70" r="4.1" fill="#1c6ee4" stroke="#fff" stroke-width="0.6"/>
<circle cx="241.50" cy="139.80" r="4.1" fill="#1c6ee4" stroke="#fff" stroke-width="0.6"/>
<circle cx="238.50" cy="141.60" r="4.1" fill="#1c6ee4" stroke="#fff" stroke-width="0.6"/>
<circle cx="234.80" cy="143.50" r="4.1" fill="#1c6ee4" stroke="#fff" stroke-width="0.6"/>
<circle cx="252.20" cy="133.80" r="4.1" fill="#1c6ee4" stroke="#fff" stroke-width="0.6"/>
<circle cx="257.70" cy="138.50" r="4.1" fill="#1c6ee4" stroke="#fff" stroke-width="0.6"/>
<circle cx="251.90" cy="142.80" r="4.1" fill="#1c6ee4" stroke="#fff" stroke-width="0.6"/>
<circle cx="267.60" cy="138.50" r="4.1" fill="#1c6ee4" stroke="#fff" stroke-width="0.6"/>
<circle cx="268.90" cy="141.40" r="4.1" fill="#1c6ee4" stroke="#fff" stroke-width="0.6"/>
<circle cx="273.70" cy="146.90" r="4.1" fill="#1c6ee4" stroke="#fff" stroke-width="0.6"/>
<circle cx="253.60" cy="150.50" r="4.1" fill="#1c6ee4" stroke="#fff" stroke-width="0.6"/>
<circle cx="265.10" cy="151.60" r="4.1" fill="#1c6ee4" stroke="#fff" stroke-width="0.6"/>
<circle cx="235.90" cy="155.30" r="4.1" fill="#1c6ee4" stroke="#fff" stroke-width="0.6"/>
<circle cx="239.40" cy="168.00" r="4.1" fill="#1c6ee4" stroke="#fff" stroke-width="0.6"/>
<rect x="55.75" y="97.45" width="11.50" height="11.50" rx="1.2" fill="#8c8c8c" stroke="#a8a8a8" stroke-width="1"/><path d="M56.35,98.05 L66.65,108.35 M56.35,108.35 L66.65,98.05" stroke="#fff" stroke-width="1.10"/>
<rect x="55.95" y="162.15" width="11.50" height="11.50" rx="1.2" fill="#8c8c8c" stroke="#a8a8a8" stroke-width="1"/><path d="M56.55,162.75 L66.85,173.05 M56.55,173.05 L66.85,162.75" stroke="#fff" stroke-width="1.10"/>
<rect x="294.80" y="91.60" width="11.80" height="11.80" rx="1.2" fill="#5b9bd5" stroke="#8dbbe6" stroke-width="1"/><path d="M295.40,92.20 L306.00,102.80 M295.40,102.80 L306.00,92.20" stroke="#fff" stroke-width="1.10"/>
<path d="M285.4,82.7 L298.5,91.5" stroke="#5b9bd5" stroke-width="0.8"/>
<text x="43.26" y="140.8" font-size="13.82" fill="#8a8a8a" font-weight="bold" textLength="33.4" lengthAdjust="spacingAndGlyphs">DMM</text>
<text x="253.84" y="81.1" font-size="13.38" fill="#5b9bd5" font-weight="bold" textLength="65.59" lengthAdjust="spacingAndGlyphs">AOC fluid</text>
<text x="300.06" y="56.5" font-size="16.93" fill="#000" font-weight="bold" textLength="8.15" lengthAdjust="spacingAndGlyphs">a</text>
<text x="87.23" y="220.4" font-size="9.89" fill="#e8732e" textLength="20.8" lengthAdjust="spacingAndGlyphs">0.2%</text>
<text x="122.33" y="232.7" font-size="9.89" fill="#e8732e" textLength="21.22" lengthAdjust="spacingAndGlyphs">0.4%</text>
<text x="156.54" y="238.1" font-size="9.89" fill="#e8732e" textLength="20.59" lengthAdjust="spacingAndGlyphs">0.6%</text>
<text x="188.83" y="241.3" font-size="9.89" fill="#e8732e" textLength="20.91" lengthAdjust="spacingAndGlyphs">0.8%</text>
<path d="M97,223.4 C97.4,226.4 98.6,227.6 101.5,228.8 Q145,244.5 195,245 Q197.8,245 197.8,241.8" fill="none" stroke="#e8732e" stroke-width="0.9"/>
<text x="0" y="0" font-size="13" fill="#e8732e" font-weight="bold" font-style="italic" textLength="54.83" lengthAdjust="spacingAndGlyphs" transform="translate(115.36,246.57) rotate(6.40)">Mélange</text>
<path d="M267,232.2 L313,232.6" stroke="#ed7d31" stroke-width="1.8"/>
<path d="M310.5,229.3 L319.5,232.7 L310.5,236 Z" fill="#ed7d31"/>
<text x="237.79" y="246.9" font-size="11.59" fill="#e8732e" font-weight="bold" textLength="80.18" lengthAdjust="spacingAndGlyphs">Metasediment</text>
<rect x="42.10" y="38.50" width="278.20" height="235.40" fill="none" stroke="#1e1e1e" stroke-width="1.4"/>
<path d="M42.10,67.90 h2.8 M42.10,126.80 h2.8 M42.10,185.60 h2.8 M42.10,244.50 h2.8 M42.10,97.35 h2.2 M42.10,156.20 h2.2 M42.10,215.05 h2.2" stroke="#1e1e1e" stroke-width="1.1"/>
<path d="M61.50,273.90 v-2.8 M101.30,273.90 v-2.8 M141.20,273.90 v-2.8 M181.00,273.90 v-2.8 M220.80,273.90 v-2.8 M260.70,273.90 v-2.8 M300.50,273.90 v-2.8" stroke="#1e1e1e" stroke-width="1.1"/>
<text x="15.49" y="71.1" font-size="10.32" fill="#1a1a1a" textLength="21.61" lengthAdjust="spacing">0.20</text>
<text x="15.48" y="130.3" font-size="10.47" fill="#1a1a1a" textLength="21.43" lengthAdjust="spacing">0.10</text>
<text x="15.49" y="189.1" font-size="10.18" fill="#1a1a1a" textLength="21.1" lengthAdjust="spacing">0.00</text>
<text x="12.41" y="248.3" font-size="10.9" fill="#1a1a1a" textLength="25.02" lengthAdjust="spacing">-0.10</text>
<text x="40.98" y="287.3" font-size="10.61" fill="#1a1a1a" textLength="33.79" lengthAdjust="spacing">0.7026</text>
<text x="120.48" y="287.3" font-size="10.61" fill="#1a1a1a" textLength="33.64" lengthAdjust="spacing">0.7030</text>
<text x="200.38" y="287.3" font-size="10.61" fill="#1a1a1a" textLength="33.33" lengthAdjust="spacing">0.7034</text>
<text x="279.88" y="287.3" font-size="10.61" fill="#1a1a1a" textLength="33.69" lengthAdjust="spacing">0.7038</text>
<text x="158.1" y="303.3" font-size="11.4" fill="#1a1a1a" textLength="46.4" lengthAdjust="spacingAndGlyphs"><tspan font-size="7.2" dy="-4.4">87</tspan><tspan dy="4.4">Sr/</tspan><tspan font-size="7.2" dy="-4.4">86</tspan><tspan dy="4.4">Sr</tspan></text>
<text transform="translate(9.9,193.5) rotate(-90)" font-size="11.2" fill="#1a1a1a" textLength="78.2" lengthAdjust="spacingAndGlyphs"><tspan>δ</tspan><tspan font-size="7.2" dy="-4.3">138/134</tspan><tspan dy="4.3">Ba (‰)</tspan></text>
<rect x="45.90" y="15.90" width="92.10" height="77.40" fill="#fff"/>
<g>
<path d="M47.8,36.2 L61,35.6 L57,42 L48.5,45.5 Z" fill="#b3dff2"/>
<path d="M46.9,38 C47.1,60 47.3,72 49.5,77.5 C51.5,80.8 56,81.7 66,81.9 L126.5,85.4 L126.5,83.4 L66,79.3 C59,79 55.6,77.6 53.9,74.6 C51.6,70 49.6,58 48.3,38 Z" fill="#fde69a"/>
<path d="M50.5,74 L58.5,40 M52.5,77 L60,41 M55.5,78.5 L61,44" stroke="#d6e4cd" stroke-width="1.1" fill="none"/>
</g>
<path d="M62.8,40 C63.5,55 64.5,64 68,69 C72,74.5 80,78 95,80.3 C105,81.8 115,82.8 125,83.7" fill="none" stroke="#3b5998" stroke-width="0.55"/>
<circle cx="57.20" cy="36.50" r="1.25" fill="#1c6ee4"/>
<circle cx="59.80" cy="36.20" r="1.25" fill="#1c6ee4"/>
<circle cx="58.00" cy="40.10" r="1.25" fill="#1c6ee4"/>
<circle cx="60.50" cy="40.90" r="1.25" fill="#1c6ee4"/>
<circle cx="56.90" cy="43.40" r="1.25" fill="#1c6ee4"/>
<circle cx="59.00" cy="43.00" r="1.25" fill="#1c6ee4"/>
<circle cx="61.20" cy="38.30" r="1.25" fill="#1c6ee4"/>
<circle cx="60.60" cy="45.20" r="1.25" fill="#1c6ee4"/>
<circle cx="59.50" cy="53.40" r="1.25" fill="#1c6ee4"/>
<circle cx="57.90" cy="59.00" r="1.25" fill="#1c6ee4"/>
<circle cx="61.00" cy="49.00" r="1.25" fill="#1c6ee4"/>
<rect x="55.45" y="50.95" width="2.3" height="2.3" fill="#ed7d31"/>
<rect x="54.85" y="53.05" width="2.3" height="2.3" fill="#ed7d31"/>
<rect x="53.35" y="55.95" width="2.3" height="2.3" fill="#ed7d31"/>
<rect x="54.75" y="58.65" width="2.3" height="2.3" fill="#ed7d31"/>
<rect x="54.25" y="61.60" width="2.3" height="2.3" fill="#ed7d31"/>
<rect x="54.45" y="63.75" width="2.3" height="2.3" fill="#ed7d31"/>
<rect x="54.25" y="65.95" width="2.3" height="2.3" fill="#ed7d31"/>
<rect x="53.85" y="68.45" width="2.3" height="2.3" fill="#ed7d31"/>
<rect x="53.60" y="70.95" width="2.3" height="2.3" fill="#ed7d31"/>
<rect x="53.60" y="73.45" width="2.3" height="2.3" fill="#ed7d31"/>
<circle cx="49.30" cy="37.20" r="1.40" fill="#b0b0b0" stroke="#7a7a7a" stroke-width="0.70"/><path d="M48.32,36.22 L50.28,38.18 M48.32,38.18 L50.28,36.22" stroke="#7a7a7a" stroke-width="0.70"/>
<circle cx="48.60" cy="53.90" r="1.40" fill="#b0b0b0" stroke="#7a7a7a" stroke-width="0.70"/><path d="M47.62,52.92 L49.58,54.88 M47.62,54.88 L49.58,52.92" stroke="#7a7a7a" stroke-width="0.70"/>
<text x="48.24" y="48.8" font-size="6.11" fill="#8a8a8a" textLength="16.12" lengthAdjust="spacingAndGlyphs" stroke="#8a8a8a" stroke-width="0.22">DMM</text>
<text x="55.4" y="24.8" font-size="11" fill="#1a1a1a" stroke="#1a1a1a" stroke-width="0.12">a</text>
<text x="66.11" y="34.6" font-size="7.59" fill="#5b9bd5" font-weight="bold" textLength="34.78" lengthAdjust="spacingAndGlyphs" stroke="#5b9bd5" stroke-width="0.22">AOC fluid</text>
<rect x="102.5" y="46.3" width="35.5" height="19" fill="#f7c393"/>
<text x="103.6" y="58.4" font-size="7.6" fill="#262626" font-weight="bold" textLength="33.8" lengthAdjust="spacingAndGlyphs" stroke="#262626" stroke-width="0.22">Sediment</text>
<path d="M125.8,66.3 L127.9,66.3 L127.9,76.8 L129.5,76.8 L126.85,80.2 L124.2,76.8 L125.8,76.8 Z" fill="#fbe5d6" stroke="#ed7d31" stroke-width="0.6"/>
<text x="72.3" y="75" font-size="7.6" fill="#e8732e" font-weight="bold" textLength="52.9" lengthAdjust="spacingAndGlyphs" stroke="#e8732e" stroke-width="0.22">Metamorphism</text>
<circle cx="126.90" cy="84.30" r="2.70" fill="#fbe3d2" stroke="#ed7d31" stroke-width="0.75"/><path d="M125.01,82.41 L128.79,86.19 M125.01,86.19 L128.79,82.41" stroke="#ed7d31" stroke-width="0.75"/>
<text x="82.8" y="92.5" font-size="7.4" fill="#e8732e" font-weight="bold" textLength="51.4" lengthAdjust="spacingAndGlyphs" stroke="#e8732e" stroke-width="0.22">Metasediment</text>
<path d="M63.60,15.90 H138.00 V93.30 H63.60" fill="none" stroke="#6a6a6a" stroke-width="1.1"/>
<path d="M51.50,15.90 v1.8 M75.00,15.90 v1.8 M86.40,15.90 v1.8 M98.00,15.90 v1.8 M109.60,15.90 v1.8 M121.20,15.90 v1.8 M132.80,15.90 v1.8" stroke="#444" stroke-width="0.9"/>
<path d="M138.00,28.70 h-1.8 M138.00,38.00 h-1.8 M138.00,47.10 h-1.8 M138.00,56.50 h-1.8 M138.00,65.00 h-1.8 M138.00,75.00 h-1.8 M138.00,83.90 h-1.8" stroke="#444" stroke-width="0.9"/>
<rect x="46.2" y="15.9" width="17.4" height="77.4" fill="none" stroke="#5b9bd5" stroke-width="1.3"/>
<text x="50.3" y="13.9" font-size="7" fill="#1a1a1a" text-anchor="middle" textLength="17.4" lengthAdjust="spacingAndGlyphs" stroke="#1a1a1a" stroke-width="0.22">0.703</text>
<text x="73.5" y="13.9" font-size="7" fill="#1a1a1a" text-anchor="middle" textLength="17.4" lengthAdjust="spacingAndGlyphs" stroke="#1a1a1a" stroke-width="0.22">0.705</text>
<text x="96.5" y="13.9" font-size="7" fill="#1a1a1a" text-anchor="middle" textLength="17.4" lengthAdjust="spacingAndGlyphs" stroke="#1a1a1a" stroke-width="0.22">0.707</text>
<text x="119.5" y="13.9" font-size="7" fill="#1a1a1a" text-anchor="middle" textLength="17.4" lengthAdjust="spacingAndGlyphs" stroke="#1a1a1a" stroke-width="0.22">0.709</text>
<text x="74.6" y="7.6" font-size="7.8" fill="#1a1a1a" stroke="#1a1a1a" stroke-width="0.2" textLength="27.4" lengthAdjust="spacingAndGlyphs"><tspan font-size="4.2" dy="-3.4">87</tspan><tspan dy="3.4">Sr/</tspan><tspan font-size="4.2" dy="-3.4">86</tspan><tspan dy="3.4">Sr</tspan></text>
<text x="0" y="0" font-size="7" fill="#1a1a1a" text-anchor="middle" transform="translate(140.2,29.30) rotate(90)" stroke="#1a1a1a" stroke-width="0.22">0.20</text>
<text x="0" y="0" font-size="7" fill="#1a1a1a" text-anchor="middle" transform="translate(140.2,47.20) rotate(90)" stroke="#1a1a1a" stroke-width="0.22">0.10</text>
<text x="0" y="0" font-size="7" fill="#1a1a1a" text-anchor="middle" transform="translate(140.2,64.60) rotate(90)" stroke="#1a1a1a" stroke-width="0.22">0</text>
<text x="0" y="0" font-size="7" fill="#1a1a1a" text-anchor="middle" transform="translate(140.2,83.30) rotate(90)" stroke="#1a1a1a" stroke-width="0.22">-0.10</text>
<text transform="translate(147.2,41.3) rotate(90)" font-size="7.4" fill="#1a1a1a" stroke="#1a1a1a" stroke-width="0.2"><tspan>δ</tspan><tspan font-size="4.6" dy="-2.8">138/134</tspan><tspan dy="2.8">Ba</tspan></text>
<path d="M46.2,15.9 L42.1,38.5 M63.6,15.9 L320.3,38.5" stroke="#6aa6dc" stroke-width="1.0" stroke-dasharray="5.2,2.6" fill="none"/>
<defs><clipPath id="clipB"><rect x="393.55" y="37.8" width="278.55" height="235.64999999999998"/></clipPath>
<clipPath id="yelBc"><path d="M635.20,103.50 L635.19,103.51 L635.16,103.55 L635.11,103.61 L635.04,103.69 L634.96,103.81 L634.85,103.97 L634.72,104.17 L634.58,104.41 L634.41,104.71 L634.23,105.07 L634.03,105.49 L633.80,105.98 L633.56,106.56 L633.30,107.21 L633.02,107.95 L632.72,108.85 L632.40,109.99 L632.06,111.37 L631.70,112.98 L631.32,114.78 L630.92,116.72 L630.51,118.73 L630.07,120.73 L629.61,122.59 L629.14,124.26 L628.64,125.92 L628.13,127.56 L627.60,129.20 L627.04,130.83 L626.47,132.46 L625.88,134.11 L625.27,135.79 L624.64,137.52 L623.99,139.31 L623.32,141.13 L622.63,142.96 L621.92,144.76 L621.19,146.49 L620.45,148.10 L619.68,149.59 L618.90,151.02 L618.09,152.40 L617.27,153.73 L616.42,155.01 L615.56,156.26 L614.68,157.49 L613.77,158.68 L612.85,159.78 L611.91,160.84 L610.95,161.91 L609.97,163.03 L608.97,164.27 L607.96,165.70 L606.92,167.30 L605.86,169.01 L604.78,170.71 L603.69,172.31 L602.57,173.77 L601.44,175.18 L600.28,176.57 L599.11,177.92 L597.92,179.24 L596.70,180.53 L595.47,181.77 L594.22,182.98 L592.95,184.16 L591.66,185.33 L590.35,186.48 L589.02,187.60 L587.67,188.70 L586.31,189.75 L584.92,190.76 L583.51,191.72 L582.09,192.61 L580.64,193.48 L579.18,194.32 L577.69,195.13 L576.19,195.91 L574.67,196.66 L573.13,197.39 L571.56,198.08 L569.98,198.73 L568.38,199.36 L566.76,199.95 L565.12,200.51 L563.47,201.04 L561.79,201.55 L560.09,202.05 L558.37,202.55 L556.64,203.04 L554.88,203.53 L553.11,204.02 L551.31,204.48 L549.50,204.94 L547.67,205.41 L545.81,205.89 L543.94,206.42 L542.05,206.99 L540.14,207.62 L538.21,208.28 L536.26,208.98 L534.29,209.70 L532.30,210.43 L530.30,211.17 L528.27,211.91 L526.22,212.62 L524.16,213.30 L522.07,213.94 L519.97,214.53 L517.84,215.06 L515.70,215.57 L513.54,216.06 L511.35,216.53 L509.15,216.99 L506.93,217.43 L504.69,217.86 L502.43,218.27 L500.15,218.68 L497.85,219.08 L495.53,219.46 L493.20,219.84 L490.84,220.21 L488.46,220.57 L486.07,220.91 L483.65,221.25 L481.22,221.58 L478.77,221.90 L476.29,222.21 L473.80,222.52 L471.29,222.84 L468.76,223.16 L466.20,223.49 L463.63,223.80 L461.05,224.11 L458.44,224.39 L455.81,224.64 L453.16,224.85 L450.49,225.02 L447.81,225.17 L445.10,225.31 L442.37,225.43 L439.63,225.55 L436.87,225.66 L434.08,225.77 L431.28,225.89 L428.46,226.03 L425.61,226.17 L422.75,226.31 L419.87,226.45 L416.97,226.60 L414.05,226.74 L411.11,226.89 L408.16,227.04 L405.18,227.20 L402.18,227.35 L399.17,227.51 L396.13,227.67 L393.07,227.83 L390.00,228.00 L390.00,236.20 L393.07,236.18 L396.12,236.15 L399.16,236.12 L402.17,236.07 L405.17,236.02 L408.14,235.95 L411.10,235.89 L414.03,235.82 L416.95,235.74 L419.85,235.66 L422.73,235.58 L425.59,235.50 L428.43,235.42 L431.25,235.33 L434.05,235.24 L436.83,235.13 L439.59,235.02 L442.33,234.89 L445.05,234.75 L447.76,234.60 L450.44,234.43 L453.11,234.25 L455.75,234.01 L458.38,233.71 L460.99,233.37 L463.57,233.01 L466.14,232.63 L468.69,232.26 L471.22,231.90 L473.73,231.57 L476.22,231.24 L478.69,230.90 L481.14,230.56 L483.58,230.23 L485.99,229.90 L488.38,229.56 L490.76,229.24 L493.11,228.92 L495.45,228.60 L497.76,228.29 L500.06,227.99 L502.34,227.69 L504.60,227.40 L506.84,227.11 L509.05,226.82 L511.25,226.53 L513.44,226.23 L515.60,225.93 L517.74,225.63 L519.86,225.32 L521.96,225.00 L524.05,224.68 L526.11,224.35 L528.16,224.02 L530.18,223.68 L532.19,223.35 L534.17,223.01 L536.14,222.67 L538.09,222.33 L540.02,222.00 L541.93,221.66 L543.82,221.33 L545.69,220.99 L547.54,220.65 L549.37,220.31 L551.18,219.96 L552.97,219.61 L554.75,219.25 L556.50,218.88 L558.24,218.51 L559.95,218.12 L561.65,217.73 L563.32,217.34 L564.98,216.94 L566.62,216.54 L568.24,216.14 L569.84,215.74 L571.42,215.33 L572.98,214.92 L574.52,214.51 L576.04,214.10 L577.54,213.69 L579.02,213.28 L580.49,212.88 L581.93,212.48 L583.36,212.10 L584.76,211.73 L586.15,211.37 L587.51,211.02 L588.86,210.68 L590.19,210.33 L591.50,209.97 L592.79,209.60 L594.06,209.22 L595.31,208.81 L596.54,208.39 L597.75,207.94 L598.94,207.48 L600.11,207.00 L601.27,206.50 L602.40,205.98 L603.51,205.45 L604.61,204.90 L605.68,204.32 L606.74,203.73 L607.78,203.12 L608.80,202.49 L609.79,201.84 L610.77,201.17 L611.73,200.44 L612.67,199.67 L613.59,198.84 L614.49,197.98 L615.38,197.09 L616.24,196.17 L617.08,195.22 L617.90,194.26 L618.71,193.29 L619.49,192.31 L620.26,191.30 L621.01,190.24 L621.73,189.14 L622.44,188.01 L623.13,186.86 L623.80,185.69 L624.45,184.50 L625.08,183.32 L625.69,182.13 L626.28,180.95 L626.85,179.73 L627.40,178.42 L627.94,177.06 L628.45,175.69 L628.94,174.36 L629.42,173.08 L629.87,171.89 L630.31,170.79 L630.73,169.81 L631.12,168.93 L631.50,168.13 L631.86,167.39 L632.20,166.70 L632.52,166.07 L632.82,165.48 L633.10,164.94 L633.36,164.45 L633.60,164.01 L633.83,163.60 L634.03,163.24 L634.22,162.92 L634.38,162.63 L634.53,162.39 L634.65,162.17 L634.76,162.00 L634.84,161.85 L634.91,161.74 L634.96,161.66 L634.99,161.62 L635.00,161.60 Z"/></clipPath></defs>
<g clip-path="url(#clipB)">
<path d="M466.79,233.06 L467.18,232.05 L467.56,231.03 L467.94,230.01 L468.32,228.99 L468.70,227.97 L469.08,226.97 L469.47,225.96 L469.86,224.97 L470.27,223.99 L470.70,223.01 L471.14,222.02 L471.60,221.05 L471.90,220.04 L472.21,219.03 L472.53,218.02 L472.86,217.00 L473.21,215.96 L473.58,214.89 L473.96,213.80 L474.37,212.67 L474.89,211.22 L475.43,209.70 L475.99,208.14 L476.57,206.55 L477.17,204.95 L477.79,203.36 L478.42,201.78 L479.08,200.24 L479.76,198.76 L480.45,197.34 L481.12,196.06 L481.83,194.81 L482.55,193.58 L483.31,192.36 L484.08,191.16 L484.87,189.96 L485.68,188.75 L486.51,187.55 L487.35,186.33 L488.19,185.10 L489.07,183.83 L489.96,182.56 L490.85,181.28 L491.76,180.00 L492.67,178.74 L493.60,177.49 L494.53,176.27 L495.46,175.07 L496.40,173.92 L497.34,172.80 L498.20,171.83 L499.04,170.91 L499.87,170.03 L500.72,169.18 L501.58,168.33 L502.47,167.46 L503.41,166.57 L504.40,165.63 L505.46,164.64 L506.59,163.56 L508.47,161.75 L510.51,159.77 L512.68,157.66 L514.95,155.46 L517.31,153.22 L519.72,150.98 L522.16,148.77 L524.60,146.65 L527.01,144.67 L529.38,142.84 L531.55,141.28 L533.76,139.78 L535.99,138.34 L538.24,136.95 L540.51,135.61 L542.80,134.30 L545.10,133.03 L547.41,131.79 L549.74,130.56 L552.06,129.34 L554.31,128.19 L556.56,127.07 L558.82,125.98 L561.10,124.92 L563.37,123.88 L565.66,122.87 L567.95,121.89 L570.25,120.92 L572.55,119.97 L574.85,119.04 L577.11,118.14 L579.38,117.28 L581.65,116.44 L583.93,115.62 L586.22,114.82 L588.51,114.03 L590.78,113.18 L593.05,112.34 L595.33,111.50 L597.61,110.67 L599.88,109.85 L602.20,109.04 L604.53,108.24 L606.88,107.44 L609.22,106.66 L611.54,105.90 L613.83,105.14 L616.06,104.41 L618.23,103.69 L620.32,102.99 L621.94,102.42 L623.51,101.88 L625.03,101.35 L626.53,100.83 L627.99,100.32 L629.44,99.82 L630.89,99.31 L632.34,98.81 L633.80,98.30 L635.28,97.79 L635.12,97.21 L633.59,97.57 L632.08,97.91 L630.59,98.26 L629.09,98.60 L627.60,98.94 L626.08,99.29 L624.54,99.65 L622.97,100.02 L621.35,100.41 L619.68,100.81 L617.55,101.35 L615.34,101.91 L613.05,102.49 L610.72,103.08 L608.35,103.69 L605.95,104.31 L603.54,104.95 L601.13,105.60 L598.74,106.26 L596.39,106.93 L594.05,107.61 L591.71,108.29 L589.37,108.98 L587.03,109.68 L584.71,110.47 L582.39,111.29 L580.08,112.12 L577.76,112.97 L575.45,113.86 L573.15,114.76 L570.81,115.71 L568.48,116.67 L566.15,117.65 L563.82,118.66 L561.49,119.69 L559.17,120.74 L556.85,121.82 L554.54,122.94 L552.24,124.08 L549.94,125.26 L547.59,126.49 L545.25,127.73 L542.90,129.00 L540.55,130.29 L538.20,131.63 L535.86,133.01 L533.53,134.45 L531.22,135.94 L528.91,137.51 L526.62,139.16 L524.14,141.07 L521.63,143.14 L519.11,145.33 L516.61,147.58 L514.16,149.87 L511.77,152.14 L509.47,154.36 L507.30,156.47 L505.27,158.45 L503.41,160.24 L502.29,161.30 L501.24,162.29 L500.24,163.23 L499.29,164.14 L498.37,165.04 L497.46,165.93 L496.57,166.84 L495.68,167.77 L494.78,168.75 L493.86,169.80 L492.86,170.98 L491.86,172.21 L490.88,173.46 L489.92,174.73 L488.96,176.02 L488.02,177.32 L487.09,178.62 L486.18,179.92 L485.28,181.22 L484.41,182.50 L483.56,183.72 L482.72,184.94 L481.88,186.17 L481.05,187.40 L480.23,188.65 L479.41,189.91 L478.62,191.20 L477.84,192.52 L477.08,193.87 L476.35,195.26 L475.60,196.80 L474.87,198.39 L474.18,200.01 L473.51,201.66 L472.87,203.31 L472.25,204.95 L471.66,206.57 L471.09,208.15 L470.55,209.67 L470.03,211.13 L469.63,212.27 L469.24,213.38 L468.86,214.47 L468.50,215.55 L468.15,216.61 L467.82,217.66 L467.49,218.71 L467.18,219.76 L467.04,220.87 L466.90,221.99 L466.78,223.11 L466.68,224.22 L466.60,225.32 L466.53,226.42 L466.48,227.52 L466.42,228.60 L466.37,229.69 L466.32,230.77 L466.27,231.85 L466.21,232.94 Z" fill="#cfe3c5"/>
<path d="M501.10,229.53 L501.54,226.81 L501.96,224.03 L502.35,221.22 L502.75,218.41 L503.15,215.62 L503.57,212.87 L504.02,210.21 L504.52,207.64 L505.06,205.21 L505.66,202.93 L506.01,201.23 L506.38,199.57 L506.78,197.98 L507.19,196.43 L507.63,194.93 L508.09,193.47 L508.58,192.03 L509.10,190.60 L509.64,189.20 L510.22,187.79 L510.78,186.49 L511.37,185.21 L511.99,183.94 L512.62,182.70 L513.28,181.47 L513.96,180.27 L514.66,179.10 L515.38,177.94 L516.12,176.82 L516.87,175.74 L517.58,174.77 L518.30,173.87 L519.03,173.00 L519.79,172.15 L520.58,171.29 L521.40,170.43 L522.26,169.53 L523.16,168.60 L524.10,167.61 L525.08,166.57 L526.48,165.06 L527.95,163.49 L529.49,161.85 L531.10,160.15 L532.75,158.42 L534.43,156.66 L536.13,154.88 L537.85,153.11 L539.55,151.34 L541.25,149.60 L543.05,147.73 L544.86,145.79 L546.68,143.83 L548.51,141.86 L550.34,139.92 L552.17,138.02 L554.00,136.20 L555.81,134.47 L557.62,132.87 L559.41,131.41 L560.91,130.31 L562.39,129.28 L563.87,128.33 L565.36,127.44 L566.87,126.58 L568.41,125.75 L569.99,124.92 L571.62,124.09 L573.30,123.24 L575.04,122.35 L577.14,121.29 L579.30,120.23 L581.53,119.16 L583.80,118.10 L586.12,117.04 L588.46,116.01 L590.82,114.99 L593.17,114.01 L595.51,113.06 L597.82,112.15 L600.05,111.21 L602.33,110.30 L604.64,109.41 L606.97,108.55 L609.30,107.71 L611.62,106.89 L613.90,106.09 L616.14,105.30 L618.31,104.51 L620.40,103.74 L622.02,103.10 L623.58,102.48 L625.10,101.88 L626.59,101.28 L628.05,100.70 L629.49,100.12 L630.93,99.54 L632.37,98.96 L633.82,98.38 L635.29,97.78 L635.11,97.22 L633.57,97.62 L632.05,98.01 L630.55,98.40 L629.05,98.79 L627.55,99.18 L626.03,99.57 L624.48,99.98 L622.90,100.39 L621.27,100.82 L619.60,101.26 L617.47,101.84 L615.25,102.43 L612.97,103.03 L610.62,103.64 L608.23,104.28 L605.82,104.93 L603.39,105.62 L600.96,106.33 L598.55,107.07 L596.18,107.85 L593.81,108.78 L591.42,109.75 L589.02,110.76 L586.62,111.79 L584.24,112.85 L581.88,113.92 L579.56,115.00 L577.29,116.09 L575.08,117.18 L572.96,118.25 L571.22,119.14 L569.53,119.99 L567.88,120.84 L566.25,121.68 L564.64,122.56 L563.04,123.46 L561.45,124.42 L559.84,125.45 L558.23,126.57 L556.59,127.79 L554.64,129.36 L552.70,131.08 L550.79,132.90 L548.89,134.80 L547.01,136.75 L545.15,138.72 L543.31,140.70 L541.50,142.66 L539.71,144.56 L537.95,146.40 L536.26,148.14 L534.54,149.91 L532.82,151.69 L531.11,153.47 L529.42,155.24 L527.76,156.99 L526.15,158.69 L524.59,160.34 L523.11,161.93 L521.72,163.43 L520.76,164.46 L519.84,165.42 L518.95,166.34 L518.08,167.25 L517.22,168.15 L516.38,169.06 L515.55,169.99 L514.73,170.96 L513.92,171.98 L513.13,173.06 L512.31,174.25 L511.51,175.46 L510.74,176.70 L509.98,177.96 L509.25,179.25 L508.55,180.56 L507.87,181.89 L507.21,183.25 L506.58,184.62 L505.98,186.01 L505.37,187.49 L504.79,188.99 L504.24,190.50 L503.72,192.03 L503.23,193.60 L502.76,195.19 L502.32,196.83 L501.91,198.52 L501.51,200.26 L501.14,202.07 L500.91,204.56 L500.75,207.17 L500.64,209.86 L500.58,212.61 L500.56,215.42 L500.56,218.25 L500.56,221.09 L500.56,223.92 L500.54,226.72 L500.50,229.47 Z" fill="#cfe3c5"/>
<path d="M540.80,223.54 L541.13,222.41 L541.46,221.27 L541.79,220.12 L542.12,218.97 L542.45,217.83 L542.78,216.69 L543.11,215.57 L543.44,214.46 L543.77,213.36 L544.10,212.29 L544.41,211.33 L544.54,210.38 L544.66,209.45 L544.78,208.54 L544.90,207.64 L545.03,206.74 L545.17,205.84 L545.31,204.93 L545.48,204.00 L545.65,203.06 L545.90,201.92 L546.17,200.77 L546.48,199.57 L546.80,198.35 L547.15,197.10 L547.49,195.81 L547.84,194.50 L548.17,193.17 L548.48,191.81 L548.76,190.41 L549.01,188.84 L549.20,187.24 L549.34,185.65 L549.45,184.07 L549.56,182.51 L549.69,180.98 L549.85,179.49 L550.06,178.06 L550.33,176.69 L550.70,175.39 L551.14,174.12 L551.66,172.86 L552.24,171.60 L552.88,170.35 L553.57,169.10 L554.30,167.84 L555.06,166.58 L555.85,165.30 L556.65,164.01 L557.45,162.72 L558.29,161.39 L559.17,160.07 L560.08,158.76 L561.03,157.43 L562.00,156.10 L562.98,154.77 L563.97,153.42 L564.96,152.06 L565.94,150.68 L566.91,149.29 L567.84,147.87 L568.74,146.44 L569.62,145.01 L570.48,143.59 L571.33,142.18 L572.18,140.80 L573.05,139.45 L573.93,138.14 L574.84,136.87 L575.79,135.64 L576.79,134.44 L577.82,133.25 L578.88,132.09 L579.96,130.96 L581.07,129.83 L582.21,128.72 L583.38,127.63 L584.58,126.53 L585.82,125.44 L587.09,124.36 L588.53,123.15 L590.02,121.94 L591.54,120.73 L593.11,119.54 L594.70,118.36 L596.32,117.21 L597.96,116.09 L599.61,115.01 L601.22,113.90 L602.84,112.84 L604.49,111.84 L606.19,110.88 L607.93,109.95 L609.71,109.05 L611.51,108.19 L613.32,107.34 L615.13,106.52 L616.93,105.71 L618.71,104.91 L620.44,104.12 L621.97,103.43 L623.47,102.76 L624.97,102.11 L626.45,101.48 L627.92,100.86 L629.39,100.25 L630.86,99.64 L632.34,99.03 L633.82,98.41 L635.30,97.78 L635.10,97.22 L633.55,97.67 L632.02,98.12 L630.49,98.56 L628.96,99.00 L627.42,99.44 L625.88,99.89 L624.32,100.35 L622.75,100.83 L621.16,101.34 L619.56,101.88 L617.75,102.49 L615.91,103.12 L614.03,103.76 L612.13,104.43 L610.22,105.12 L608.30,105.84 L606.38,106.60 L604.48,107.40 L602.60,108.25 L600.76,109.16 L598.94,110.12 L597.14,111.13 L595.40,112.26 L593.69,113.44 L592.00,114.64 L590.34,115.86 L588.72,117.10 L587.14,118.35 L585.60,119.60 L584.11,120.84 L582.80,121.97 L581.52,123.11 L580.26,124.25 L579.03,125.40 L577.83,126.57 L576.66,127.75 L575.51,128.96 L574.39,130.20 L573.29,131.46 L572.21,132.76 L571.15,134.12 L570.15,135.51 L569.20,136.93 L568.29,138.35 L567.40,139.78 L566.54,141.21 L565.69,142.62 L564.84,144.01 L563.98,145.38 L563.09,146.71 L562.18,148.04 L561.23,149.37 L560.26,150.70 L559.28,152.04 L558.29,153.39 L557.30,154.74 L556.32,156.11 L555.37,157.49 L554.43,158.88 L553.55,160.28 L552.74,161.58 L551.94,162.88 L551.13,164.18 L550.34,165.49 L549.56,166.83 L548.81,168.19 L548.10,169.59 L547.44,171.02 L546.84,172.49 L546.30,174.01 L545.86,175.63 L545.53,177.27 L545.28,178.91 L545.11,180.54 L544.97,182.16 L544.86,183.74 L544.75,185.29 L544.62,186.78 L544.46,188.21 L544.24,189.59 L543.98,190.84 L543.69,192.10 L543.38,193.37 L543.05,194.63 L542.71,195.89 L542.36,197.15 L542.03,198.41 L541.71,199.66 L541.41,200.91 L541.15,202.14 L540.95,203.18 L540.78,204.16 L540.62,205.13 L540.48,206.07 L540.35,207.00 L540.22,207.93 L540.10,208.85 L539.98,209.78 L539.85,210.72 L539.90,211.71 L539.93,212.84 L539.96,213.99 L539.99,215.16 L540.02,216.34 L540.05,217.52 L540.08,218.71 L540.11,219.91 L540.14,221.10 L540.17,222.28 L540.20,223.46 Z" fill="#cfe3c5"/>
<path d="M584.10,211.52 L584.39,210.38 L584.68,209.24 L584.97,208.09 L585.27,206.95 L585.56,205.80 L585.85,204.66 L586.14,203.52 L586.43,202.39 L586.72,201.27 L586.80,200.14 L586.86,199.08 L586.92,198.05 L586.98,197.04 L587.04,196.03 L587.11,195.03 L587.17,194.02 L587.24,192.99 L587.31,191.93 L587.40,190.84 L587.49,189.69 L587.63,188.09 L587.77,186.38 L587.92,184.59 L588.08,182.74 L588.26,180.88 L588.44,179.02 L588.63,177.21 L588.83,175.48 L589.05,173.85 L589.27,172.36 L589.44,171.39 L589.61,170.48 L589.79,169.62 L589.97,168.78 L590.17,167.96 L590.36,167.14 L590.57,166.30 L590.79,165.42 L591.01,164.50 L591.24,163.51 L591.53,162.23 L591.81,160.91 L592.10,159.56 L592.39,158.20 L592.69,156.81 L593.00,155.40 L593.34,153.98 L593.69,152.55 L594.08,151.11 L594.50,149.66 L595.06,147.84 L595.65,145.93 L596.28,143.98 L596.95,141.99 L597.64,139.99 L598.37,138.01 L599.13,136.06 L599.91,134.17 L600.72,132.36 L601.56,130.63 L602.33,129.14 L603.14,127.66 L603.96,126.22 L604.81,124.81 L605.68,123.44 L606.57,122.11 L607.49,120.82 L608.44,119.58 L609.41,118.39 L610.40,117.25 L611.35,116.24 L612.33,115.28 L613.27,114.28 L614.24,113.31 L615.25,112.36 L616.30,111.42 L617.38,110.48 L618.49,109.55 L619.63,108.61 L620.80,107.66 L622.12,106.64 L623.48,105.63 L624.90,104.64 L626.36,103.65 L627.84,102.67 L629.35,101.69 L630.86,100.71 L632.37,99.74 L633.87,98.75 L635.35,97.76 L635.05,97.24 L633.46,98.04 L631.86,98.83 L630.24,99.61 L628.62,100.39 L627.00,101.18 L625.39,101.98 L623.79,102.79 L622.23,103.62 L620.69,104.47 L619.20,105.34 L617.89,106.12 L616.60,106.89 L615.33,107.66 L614.07,108.45 L612.82,109.26 L611.59,110.11 L610.38,111.00 L609.18,111.94 L608.07,113.01 L607.00,114.15 L605.89,115.42 L604.82,116.74 L603.79,118.09 L602.79,119.49 L601.83,120.92 L600.89,122.39 L599.99,123.89 L599.12,125.42 L598.27,126.98 L597.44,128.57 L596.55,130.42 L595.68,132.35 L594.86,134.35 L594.07,136.39 L593.31,138.45 L592.59,140.50 L591.91,142.54 L591.27,144.54 L590.66,146.48 L590.10,148.34 L589.65,149.87 L589.24,151.40 L588.87,152.90 L588.52,154.37 L588.19,155.82 L587.89,157.23 L587.60,158.61 L587.31,159.95 L587.04,161.24 L586.76,162.49 L586.54,163.43 L586.32,164.33 L586.11,165.20 L585.90,166.05 L585.69,166.90 L585.49,167.76 L585.29,168.65 L585.10,169.59 L584.91,170.58 L584.73,171.64 L584.49,173.21 L584.27,174.91 L584.06,176.70 L583.86,178.55 L583.68,180.44 L583.50,182.33 L583.34,184.19 L583.19,186.00 L583.04,187.71 L582.91,189.31 L582.81,190.47 L582.73,191.59 L582.65,192.67 L582.58,193.72 L582.51,194.74 L582.45,195.75 L582.39,196.76 L582.33,197.77 L582.27,198.80 L582.20,199.86 L582.13,200.98 L582.28,202.14 L582.44,203.30 L582.59,204.46 L582.74,205.63 L582.89,206.80 L583.04,207.98 L583.20,209.15 L583.35,210.32 L583.50,211.48 Z" fill="#cfe3c5"/>
<path d="M635.20,103.50 L635.19,103.51 L635.16,103.55 L635.11,103.61 L635.04,103.69 L634.96,103.81 L634.85,103.97 L634.72,104.17 L634.58,104.41 L634.41,104.71 L634.23,105.07 L634.03,105.49 L633.80,105.98 L633.56,106.56 L633.30,107.21 L633.02,107.95 L632.72,108.85 L632.40,109.99 L632.06,111.37 L631.70,112.98 L631.32,114.78 L630.92,116.72 L630.51,118.73 L630.07,120.73 L629.61,122.59 L629.14,124.26 L628.64,125.92 L628.13,127.56 L627.60,129.20 L627.04,130.83 L626.47,132.46 L625.88,134.11 L625.27,135.79 L624.64,137.52 L623.99,139.31 L623.32,141.13 L622.63,142.96 L621.92,144.76 L621.19,146.49 L620.45,148.10 L619.68,149.59 L618.90,151.02 L618.09,152.40 L617.27,153.73 L616.42,155.01 L615.56,156.26 L614.68,157.49 L613.77,158.68 L612.85,159.78 L611.91,160.84 L610.95,161.91 L609.97,163.03 L608.97,164.27 L607.96,165.70 L606.92,167.30 L605.86,169.01 L604.78,170.71 L603.69,172.31 L602.57,173.77 L601.44,175.18 L600.28,176.57 L599.11,177.92 L597.92,179.24 L596.70,180.53 L595.47,181.77 L594.22,182.98 L592.95,184.16 L591.66,185.33 L590.35,186.48 L589.02,187.60 L587.67,188.70 L586.31,189.75 L584.92,190.76 L583.51,191.72 L582.09,192.61 L580.64,193.48 L579.18,194.32 L577.69,195.13 L576.19,195.91 L574.67,196.66 L573.13,197.39 L571.56,198.08 L569.98,198.73 L568.38,199.36 L566.76,199.95 L565.12,200.51 L563.47,201.04 L561.79,201.55 L560.09,202.05 L558.37,202.55 L556.64,203.04 L554.88,203.53 L553.11,204.02 L551.31,204.48 L549.50,204.94 L547.67,205.41 L545.81,205.89 L543.94,206.42 L542.05,206.99 L540.14,207.62 L538.21,208.28 L536.26,208.98 L534.29,209.70 L532.30,210.43 L530.30,211.17 L528.27,211.91 L526.22,212.62 L524.16,213.30 L522.07,213.94 L519.97,214.53 L517.84,215.06 L515.70,215.57 L513.54,216.06 L511.35,216.53 L509.15,216.99 L506.93,217.43 L504.69,217.86 L502.43,218.27 L500.15,218.68 L497.85,219.08 L495.53,219.46 L493.20,219.84 L490.84,220.21 L488.46,220.57 L486.07,220.91 L483.65,221.25 L481.22,221.58 L478.77,221.90 L476.29,222.21 L473.80,222.52 L471.29,222.84 L468.76,223.16 L466.20,223.49 L463.63,223.80 L461.05,224.11 L458.44,224.39 L455.81,224.64 L453.16,224.85 L450.49,225.02 L447.81,225.17 L445.10,225.31 L442.37,225.43 L439.63,225.55 L436.87,225.66 L434.08,225.77 L431.28,225.89 L428.46,226.03 L425.61,226.17 L422.75,226.31 L419.87,226.45 L416.97,226.60 L414.05,226.74 L411.11,226.89 L408.16,227.04 L405.18,227.20 L402.18,227.35 L399.17,227.51 L396.13,227.67 L393.07,227.83 L390.00,228.00 L390.00,236.20 L393.07,236.18 L396.12,236.15 L399.16,236.12 L402.17,236.07 L405.17,236.02 L408.14,235.95 L411.10,235.89 L414.03,235.82 L416.95,235.74 L419.85,235.66 L422.73,235.58 L425.59,235.50 L428.43,235.42 L431.25,235.33 L434.05,235.24 L436.83,235.13 L439.59,235.02 L442.33,234.89 L445.05,234.75 L447.76,234.60 L450.44,234.43 L453.11,234.25 L455.75,234.01 L458.38,233.71 L460.99,233.37 L463.57,233.01 L466.14,232.63 L468.69,232.26 L471.22,231.90 L473.73,231.57 L476.22,231.24 L478.69,230.90 L481.14,230.56 L483.58,230.23 L485.99,229.90 L488.38,229.56 L490.76,229.24 L493.11,228.92 L495.45,228.60 L497.76,228.29 L500.06,227.99 L502.34,227.69 L504.60,227.40 L506.84,227.11 L509.05,226.82 L511.25,226.53 L513.44,226.23 L515.60,225.93 L517.74,225.63 L519.86,225.32 L521.96,225.00 L524.05,224.68 L526.11,224.35 L528.16,224.02 L530.18,223.68 L532.19,223.35 L534.17,223.01 L536.14,222.67 L538.09,222.33 L540.02,222.00 L541.93,221.66 L543.82,221.33 L545.69,220.99 L547.54,220.65 L549.37,220.31 L551.18,219.96 L552.97,219.61 L554.75,219.25 L556.50,218.88 L558.24,218.51 L559.95,218.12 L561.65,217.73 L563.32,217.34 L564.98,216.94 L566.62,216.54 L568.24,216.14 L569.84,215.74 L571.42,215.33 L572.98,214.92 L574.52,214.51 L576.04,214.10 L577.54,213.69 L579.02,213.28 L580.49,212.88 L581.93,212.48 L583.36,212.10 L584.76,211.73 L586.15,211.37 L587.51,211.02 L588.86,210.68 L590.19,210.33 L591.50,209.97 L592.79,209.60 L594.06,209.22 L595.31,208.81 L596.54,208.39 L597.75,207.94 L598.94,207.48 L600.11,207.00 L601.27,206.50 L602.40,205.98 L603.51,205.45 L604.61,204.90 L605.68,204.32 L606.74,203.73 L607.78,203.12 L608.80,202.49 L609.79,201.84 L610.77,201.17 L611.73,200.44 L612.67,199.67 L613.59,198.84 L614.49,197.98 L615.38,197.09 L616.24,196.17 L617.08,195.22 L617.90,194.26 L618.71,193.29 L619.49,192.31 L620.26,191.30 L621.01,190.24 L621.73,189.14 L622.44,188.01 L623.13,186.86 L623.80,185.69 L624.45,184.50 L625.08,183.32 L625.69,182.13 L626.28,180.95 L626.85,179.73 L627.40,178.42 L627.94,177.06 L628.45,175.69 L628.94,174.36 L629.42,173.08 L629.87,171.89 L630.31,170.79 L630.73,169.81 L631.12,168.93 L631.50,168.13 L631.86,167.39 L632.20,166.70 L632.52,166.07 L632.82,165.48 L633.10,164.94 L633.36,164.45 L633.60,164.01 L633.83,163.60 L634.03,163.24 L634.22,162.92 L634.38,162.63 L634.53,162.39 L634.65,162.17 L634.76,162.00 L634.84,161.85 L634.91,161.74 L634.96,161.66 L634.99,161.62 L635.00,161.60 Z" fill="#fde69a"/>
<g clip-path="url(#yelBc)">
<path d="M466.79,233.06 L467.18,232.05 L467.56,231.03 L467.94,230.01 L468.32,228.99 L468.70,227.97 L469.08,226.97 L469.47,225.96 L469.86,224.97 L470.27,223.99 L470.70,223.01 L471.14,222.02 L471.60,221.05 L471.90,220.04 L472.21,219.03 L472.53,218.02 L472.86,217.00 L473.21,215.96 L473.58,214.89 L473.96,213.80 L474.37,212.67 L474.89,211.22 L475.43,209.70 L475.99,208.14 L476.57,206.55 L477.17,204.95 L477.79,203.36 L478.42,201.78 L479.08,200.24 L479.76,198.76 L480.45,197.34 L481.12,196.06 L481.83,194.81 L482.55,193.58 L483.31,192.36 L484.08,191.16 L484.87,189.96 L485.68,188.75 L486.51,187.55 L487.35,186.33 L488.19,185.10 L489.07,183.83 L489.96,182.56 L490.85,181.28 L491.76,180.00 L492.67,178.74 L493.60,177.49 L494.53,176.27 L495.46,175.07 L496.40,173.92 L497.34,172.80 L498.20,171.83 L499.04,170.91 L499.87,170.03 L500.72,169.18 L501.58,168.33 L502.47,167.46 L503.41,166.57 L504.40,165.63 L505.46,164.64 L506.59,163.56 L508.47,161.75 L510.51,159.77 L512.68,157.66 L514.95,155.46 L517.31,153.22 L519.72,150.98 L522.16,148.77 L524.60,146.65 L527.01,144.67 L529.38,142.84 L531.55,141.28 L533.76,139.78 L535.99,138.34 L538.24,136.95 L540.51,135.61 L542.80,134.30 L545.10,133.03 L547.41,131.79 L549.74,130.56 L552.06,129.34 L554.31,128.19 L556.56,127.07 L558.82,125.98 L561.10,124.92 L563.37,123.88 L565.66,122.87 L567.95,121.89 L570.25,120.92 L572.55,119.97 L574.85,119.04 L577.11,118.14 L579.38,117.28 L581.65,116.44 L583.93,115.62 L586.22,114.82 L588.51,114.03 L590.78,113.18 L593.05,112.34 L595.33,111.50 L597.61,110.67 L599.88,109.85 L602.20,109.04 L604.53,108.24 L606.88,107.44 L609.22,106.66 L611.54,105.90 L613.83,105.14 L616.06,104.41 L618.23,103.69 L620.32,102.99 L621.94,102.42 L623.51,101.88 L625.03,101.35 L626.53,100.83 L627.99,100.32 L629.44,99.82 L630.89,99.31 L632.34,98.81 L633.80,98.30 L635.28,97.79 L635.12,97.21 L633.59,97.57 L632.08,97.91 L630.59,98.26 L629.09,98.60 L627.60,98.94 L626.08,99.29 L624.54,99.65 L622.97,100.02 L621.35,100.41 L619.68,100.81 L617.55,101.35 L615.34,101.91 L613.05,102.49 L610.72,103.08 L608.35,103.69 L605.95,104.31 L603.54,104.95 L601.13,105.60 L598.74,106.26 L596.39,106.93 L594.05,107.61 L591.71,108.29 L589.37,108.98 L587.03,109.68 L584.71,110.47 L582.39,111.29 L580.08,112.12 L577.76,112.97 L575.45,113.86 L573.15,114.76 L570.81,115.71 L568.48,116.67 L566.15,117.65 L563.82,118.66 L561.49,119.69 L559.17,120.74 L556.85,121.82 L554.54,122.94 L552.24,124.08 L549.94,125.26 L547.59,126.49 L545.25,127.73 L542.90,129.00 L540.55,130.29 L538.20,131.63 L535.86,133.01 L533.53,134.45 L531.22,135.94 L528.91,137.51 L526.62,139.16 L524.14,141.07 L521.63,143.14 L519.11,145.33 L516.61,147.58 L514.16,149.87 L511.77,152.14 L509.47,154.36 L507.30,156.47 L505.27,158.45 L503.41,160.24 L502.29,161.30 L501.24,162.29 L500.24,163.23 L499.29,164.14 L498.37,165.04 L497.46,165.93 L496.57,166.84 L495.68,167.77 L494.78,168.75 L493.86,169.80 L492.86,170.98 L491.86,172.21 L490.88,173.46 L489.92,174.73 L488.96,176.02 L488.02,177.32 L487.09,178.62 L486.18,179.92 L485.28,181.22 L484.41,182.50 L483.56,183.72 L482.72,184.94 L481.88,186.17 L481.05,187.40 L480.23,188.65 L479.41,189.91 L478.62,191.20 L477.84,192.52 L477.08,193.87 L476.35,195.26 L475.60,196.80 L474.87,198.39 L474.18,200.01 L473.51,201.66 L472.87,203.31 L472.25,204.95 L471.66,206.57 L471.09,208.15 L470.55,209.67 L470.03,211.13 L469.63,212.27 L469.24,213.38 L468.86,214.47 L468.50,215.55 L468.15,216.61 L467.82,217.66 L467.49,218.71 L467.18,219.76 L467.04,220.87 L466.90,221.99 L466.78,223.11 L466.68,224.22 L466.60,225.32 L466.53,226.42 L466.48,227.52 L466.42,228.60 L466.37,229.69 L466.32,230.77 L466.27,231.85 L466.21,232.94 Z" fill="#e8d98e"/>
<path d="M501.10,229.53 L501.54,226.81 L501.96,224.03 L502.35,221.22 L502.75,218.41 L503.15,215.62 L503.57,212.87 L504.02,210.21 L504.52,207.64 L505.06,205.21 L505.66,202.93 L506.01,201.23 L506.38,199.57 L506.78,197.98 L507.19,196.43 L507.63,194.93 L508.09,193.47 L508.58,192.03 L509.10,190.60 L509.64,189.20 L510.22,187.79 L510.78,186.49 L511.37,185.21 L511.99,183.94 L512.62,182.70 L513.28,181.47 L513.96,180.27 L514.66,179.10 L515.38,177.94 L516.12,176.82 L516.87,175.74 L517.58,174.77 L518.30,173.87 L519.03,173.00 L519.79,172.15 L520.58,171.29 L521.40,170.43 L522.26,169.53 L523.16,168.60 L524.10,167.61 L525.08,166.57 L526.48,165.06 L527.95,163.49 L529.49,161.85 L531.10,160.15 L532.75,158.42 L534.43,156.66 L536.13,154.88 L537.85,153.11 L539.55,151.34 L541.25,149.60 L543.05,147.73 L544.86,145.79 L546.68,143.83 L548.51,141.86 L550.34,139.92 L552.17,138.02 L554.00,136.20 L555.81,134.47 L557.62,132.87 L559.41,131.41 L560.91,130.31 L562.39,129.28 L563.87,128.33 L565.36,127.44 L566.87,126.58 L568.41,125.75 L569.99,124.92 L571.62,124.09 L573.30,123.24 L575.04,122.35 L577.14,121.29 L579.30,120.23 L581.53,119.16 L583.80,118.10 L586.12,117.04 L588.46,116.01 L590.82,114.99 L593.17,114.01 L595.51,113.06 L597.82,112.15 L600.05,111.21 L602.33,110.30 L604.64,109.41 L606.97,108.55 L609.30,107.71 L611.62,106.89 L613.90,106.09 L616.14,105.30 L618.31,104.51 L620.40,103.74 L622.02,103.10 L623.58,102.48 L625.10,101.88 L626.59,101.28 L628.05,100.70 L629.49,100.12 L630.93,99.54 L632.37,98.96 L633.82,98.38 L635.29,97.78 L635.11,97.22 L633.57,97.62 L632.05,98.01 L630.55,98.40 L629.05,98.79 L627.55,99.18 L626.03,99.57 L624.48,99.98 L622.90,100.39 L621.27,100.82 L619.60,101.26 L617.47,101.84 L615.25,102.43 L612.97,103.03 L610.62,103.64 L608.23,104.28 L605.82,104.93 L603.39,105.62 L600.96,106.33 L598.55,107.07 L596.18,107.85 L593.81,108.78 L591.42,109.75 L589.02,110.76 L586.62,111.79 L584.24,112.85 L581.88,113.92 L579.56,115.00 L577.29,116.09 L575.08,117.18 L572.96,118.25 L571.22,119.14 L569.53,119.99 L567.88,120.84 L566.25,121.68 L564.64,122.56 L563.04,123.46 L561.45,124.42 L559.84,125.45 L558.23,126.57 L556.59,127.79 L554.64,129.36 L552.70,131.08 L550.79,132.90 L548.89,134.80 L547.01,136.75 L545.15,138.72 L543.31,140.70 L541.50,142.66 L539.71,144.56 L537.95,146.40 L536.26,148.14 L534.54,149.91 L532.82,151.69 L531.11,153.47 L529.42,155.24 L527.76,156.99 L526.15,158.69 L524.59,160.34 L523.11,161.93 L521.72,163.43 L520.76,164.46 L519.84,165.42 L518.95,166.34 L518.08,167.25 L517.22,168.15 L516.38,169.06 L515.55,169.99 L514.73,170.96 L513.92,171.98 L513.13,173.06 L512.31,174.25 L511.51,175.46 L510.74,176.70 L509.98,177.96 L509.25,179.25 L508.55,180.56 L507.87,181.89 L507.21,183.25 L506.58,184.62 L505.98,186.01 L505.37,187.49 L504.79,188.99 L504.24,190.50 L503.72,192.03 L503.23,193.60 L502.76,195.19 L502.32,196.83 L501.91,198.52 L501.51,200.26 L501.14,202.07 L500.91,204.56 L500.75,207.17 L500.64,209.86 L500.58,212.61 L500.56,215.42 L500.56,218.25 L500.56,221.09 L500.56,223.92 L500.54,226.72 L500.50,229.47 Z" fill="#e8d98e"/>
<path d="M540.80,223.54 L541.13,222.41 L541.46,221.27 L541.79,220.12 L542.12,218.97 L542.45,217.83 L542.78,216.69 L543.11,215.57 L543.44,214.46 L543.77,213.36 L544.10,212.29 L544.41,211.33 L544.54,210.38 L544.66,209.45 L544.78,208.54 L544.90,207.64 L545.03,206.74 L545.17,205.84 L545.31,204.93 L545.48,204.00 L545.65,203.06 L545.90,201.92 L546.17,200.77 L546.48,199.57 L546.80,198.35 L547.15,197.10 L547.49,195.81 L547.84,194.50 L548.17,193.17 L548.48,191.81 L548.76,190.41 L549.01,188.84 L549.20,187.24 L549.34,185.65 L549.45,184.07 L549.56,182.51 L549.69,180.98 L549.85,179.49 L550.06,178.06 L550.33,176.69 L550.70,175.39 L551.14,174.12 L551.66,172.86 L552.24,171.60 L552.88,170.35 L553.57,169.10 L554.30,167.84 L555.06,166.58 L555.85,165.30 L556.65,164.01 L557.45,162.72 L558.29,161.39 L559.17,160.07 L560.08,158.76 L561.03,157.43 L562.00,156.10 L562.98,154.77 L563.97,153.42 L564.96,152.06 L565.94,150.68 L566.91,149.29 L567.84,147.87 L568.74,146.44 L569.62,145.01 L570.48,143.59 L571.33,142.18 L572.18,140.80 L573.05,139.45 L573.93,138.14 L574.84,136.87 L575.79,135.64 L576.79,134.44 L577.82,133.25 L578.88,132.09 L579.96,130.96 L581.07,129.83 L582.21,128.72 L583.38,127.63 L584.58,126.53 L585.82,125.44 L587.09,124.36 L588.53,123.15 L590.02,121.94 L591.54,120.73 L593.11,119.54 L594.70,118.36 L596.32,117.21 L597.96,116.09 L599.61,115.01 L601.22,113.90 L602.84,112.84 L604.49,111.84 L606.19,110.88 L607.93,109.95 L609.71,109.05 L611.51,108.19 L613.32,107.34 L615.13,106.52 L616.93,105.71 L618.71,104.91 L620.44,104.12 L621.97,103.43 L623.47,102.76 L624.97,102.11 L626.45,101.48 L627.92,100.86 L629.39,100.25 L630.86,99.64 L632.34,99.03 L633.82,98.41 L635.30,97.78 L635.10,97.22 L633.55,97.67 L632.02,98.12 L630.49,98.56 L628.96,99.00 L627.42,99.44 L625.88,99.89 L624.32,100.35 L622.75,100.83 L621.16,101.34 L619.56,101.88 L617.75,102.49 L615.91,103.12 L614.03,103.76 L612.13,104.43 L610.22,105.12 L608.30,105.84 L606.38,106.60 L604.48,107.40 L602.60,108.25 L600.76,109.16 L598.94,110.12 L597.14,111.13 L595.40,112.26 L593.69,113.44 L592.00,114.64 L590.34,115.86 L588.72,117.10 L587.14,118.35 L585.60,119.60 L584.11,120.84 L582.80,121.97 L581.52,123.11 L580.26,124.25 L579.03,125.40 L577.83,126.57 L576.66,127.75 L575.51,128.96 L574.39,130.20 L573.29,131.46 L572.21,132.76 L571.15,134.12 L570.15,135.51 L569.20,136.93 L568.29,138.35 L567.40,139.78 L566.54,141.21 L565.69,142.62 L564.84,144.01 L563.98,145.38 L563.09,146.71 L562.18,148.04 L561.23,149.37 L560.26,150.70 L559.28,152.04 L558.29,153.39 L557.30,154.74 L556.32,156.11 L555.37,157.49 L554.43,158.88 L553.55,160.28 L552.74,161.58 L551.94,162.88 L551.13,164.18 L550.34,165.49 L549.56,166.83 L548.81,168.19 L548.10,169.59 L547.44,171.02 L546.84,172.49 L546.30,174.01 L545.86,175.63 L545.53,177.27 L545.28,178.91 L545.11,180.54 L544.97,182.16 L544.86,183.74 L544.75,185.29 L544.62,186.78 L544.46,188.21 L544.24,189.59 L543.98,190.84 L543.69,192.10 L543.38,193.37 L543.05,194.63 L542.71,195.89 L542.36,197.15 L542.03,198.41 L541.71,199.66 L541.41,200.91 L541.15,202.14 L540.95,203.18 L540.78,204.16 L540.62,205.13 L540.48,206.07 L540.35,207.00 L540.22,207.93 L540.10,208.85 L539.98,209.78 L539.85,210.72 L539.90,211.71 L539.93,212.84 L539.96,213.99 L539.99,215.16 L540.02,216.34 L540.05,217.52 L540.08,218.71 L540.11,219.91 L540.14,221.10 L540.17,222.28 L540.20,223.46 Z" fill="#e8d98e"/>
<path d="M584.10,211.52 L584.39,210.38 L584.68,209.24 L584.97,208.09 L585.27,206.95 L585.56,205.80 L585.85,204.66 L586.14,203.52 L586.43,202.39 L586.72,201.27 L586.80,200.14 L586.86,199.08 L586.92,198.05 L586.98,197.04 L587.04,196.03 L587.11,195.03 L587.17,194.02 L587.24,192.99 L587.31,191.93 L587.40,190.84 L587.49,189.69 L587.63,188.09 L587.77,186.38 L587.92,184.59 L588.08,182.74 L588.26,180.88 L588.44,179.02 L588.63,177.21 L588.83,175.48 L589.05,173.85 L589.27,172.36 L589.44,171.39 L589.61,170.48 L589.79,169.62 L589.97,168.78 L590.17,167.96 L590.36,167.14 L590.57,166.30 L590.79,165.42 L591.01,164.50 L591.24,163.51 L591.53,162.23 L591.81,160.91 L592.10,159.56 L592.39,158.20 L592.69,156.81 L593.00,155.40 L593.34,153.98 L593.69,152.55 L594.08,151.11 L594.50,149.66 L595.06,147.84 L595.65,145.93 L596.28,143.98 L596.95,141.99 L597.64,139.99 L598.37,138.01 L599.13,136.06 L599.91,134.17 L600.72,132.36 L601.56,130.63 L602.33,129.14 L603.14,127.66 L603.96,126.22 L604.81,124.81 L605.68,123.44 L606.57,122.11 L607.49,120.82 L608.44,119.58 L609.41,118.39 L610.40,117.25 L611.35,116.24 L612.33,115.28 L613.27,114.28 L614.24,113.31 L615.25,112.36 L616.30,111.42 L617.38,110.48 L618.49,109.55 L619.63,108.61 L620.80,107.66 L622.12,106.64 L623.48,105.63 L624.90,104.64 L626.36,103.65 L627.84,102.67 L629.35,101.69 L630.86,100.71 L632.37,99.74 L633.87,98.75 L635.35,97.76 L635.05,97.24 L633.46,98.04 L631.86,98.83 L630.24,99.61 L628.62,100.39 L627.00,101.18 L625.39,101.98 L623.79,102.79 L622.23,103.62 L620.69,104.47 L619.20,105.34 L617.89,106.12 L616.60,106.89 L615.33,107.66 L614.07,108.45 L612.82,109.26 L611.59,110.11 L610.38,111.00 L609.18,111.94 L608.07,113.01 L607.00,114.15 L605.89,115.42 L604.82,116.74 L603.79,118.09 L602.79,119.49 L601.83,120.92 L600.89,122.39 L599.99,123.89 L599.12,125.42 L598.27,126.98 L597.44,128.57 L596.55,130.42 L595.68,132.35 L594.86,134.35 L594.07,136.39 L593.31,138.45 L592.59,140.50 L591.91,142.54 L591.27,144.54 L590.66,146.48 L590.10,148.34 L589.65,149.87 L589.24,151.40 L588.87,152.90 L588.52,154.37 L588.19,155.82 L587.89,157.23 L587.60,158.61 L587.31,159.95 L587.04,161.24 L586.76,162.49 L586.54,163.43 L586.32,164.33 L586.11,165.20 L585.90,166.05 L585.69,166.90 L585.49,167.76 L585.29,168.65 L585.10,169.59 L584.91,170.58 L584.73,171.64 L584.49,173.21 L584.27,174.91 L584.06,176.70 L583.86,178.55 L583.68,180.44 L583.50,182.33 L583.34,184.19 L583.19,186.00 L583.04,187.71 L582.91,189.31 L582.81,190.47 L582.73,191.59 L582.65,192.67 L582.58,193.72 L582.51,194.74 L582.45,195.75 L582.39,196.76 L582.33,197.77 L582.27,198.80 L582.20,199.86 L582.13,200.98 L582.28,202.14 L582.44,203.30 L582.59,204.46 L582.74,205.63 L582.89,206.80 L583.04,207.98 L583.20,209.15 L583.35,210.32 L583.50,211.48 Z" fill="#e8d98e"/>
</g>
</g>
<path d="M635.1,106 V157" stroke="#4fb3e0" stroke-width="1.6"/>
<path d="M393.6,144.1 L629.5,98.4" stroke="#333" stroke-width="1"/>
<path d="M573.8,85.3 V115.3 M582.9,84.9 V117.9 M574.6,98.9 V126.9 M572.6,102.8 V136.8 M595.1,90.8 V140.8 M579.4,107.2 V143.2 M589.6,112.1 V150.1 M587.0,115.2 V153.2 M575.8,119.8 V159.8 M574.5,119.0 V163.0 M583.3,120.8 V166.8 M585.7,128.3 V164.3 M595.3,120.0 V170.0 M572.9,136.0 V164.0 M581.0,137.2 V167.2 M566.9,142.7 V164.7 M552.3,122.3 V144.3 M540.2,132.9 V144.9 M556.0,125.0 V151.0 M557.8,130.4 V156.4 M555.0,153.7 V183.7 M597.6,147.5 V181.5 M502.2,123.6 V153.1 M510.6,136.3 V159.8 M500.5,159.8 V169.8 M529.0,156.0 V174.0 M556.8,139.6 V179.6 M488.4,156.0 V201.0 M509.6,177.7 V192.7 M504.2,186.7 V203.2 M521.6,190.6 V224.6 M528.9,185.0 V229.5 M467.2,212.0 V221.0" stroke="#c4c4c4" stroke-width="0.9" fill="none"/>
<rect x="498.20" y="143.10" width="8" height="8" fill="#ed7d31" stroke="#fff" stroke-width="0.6"/>
<rect x="506.60" y="145.80" width="8" height="8" fill="#ed7d31" stroke="#fff" stroke-width="0.6"/>
<rect x="496.50" y="161.80" width="8" height="8" fill="#ed7d31" stroke="#fff" stroke-width="0.6"/>
<rect x="525.00" y="160.00" width="8" height="8" fill="#ed7d31" stroke="#fff" stroke-width="0.6"/>
<rect x="552.80" y="153.60" width="8" height="8" fill="#ed7d31" stroke="#fff" stroke-width="0.6"/>
<rect x="484.40" y="176.00" width="8" height="8" fill="#ed7d31" stroke="#fff" stroke-width="0.6"/>
<rect x="505.60" y="178.70" width="8" height="8" fill="#ed7d31" stroke="#fff" stroke-width="0.6"/>
<rect x="500.20" y="190.70" width="8" height="8" fill="#ed7d31" stroke="#fff" stroke-width="0.6"/>
<rect x="517.60" y="204.60" width="8" height="8" fill="#ed7d31" stroke="#fff" stroke-width="0.6"/>
<rect x="524.90" y="206.50" width="8" height="8" fill="#ed7d31" stroke="#fff" stroke-width="0.6"/>
<rect x="463.20" y="213.00" width="8" height="8" fill="#ed7d31" stroke="#fff" stroke-width="0.6"/>
<circle cx="573.80" cy="99.30" r="4.1" fill="#1c6ee4" stroke="#fff" stroke-width="0.6"/>
<circle cx="582.90" cy="99.90" r="4.1" fill="#1c6ee4" stroke="#fff" stroke-width="0.6"/>
<circle cx="574.60" cy="110.90" r="4.1" fill="#1c6ee4" stroke="#fff" stroke-width="0.6"/>
<circle cx="572.60" cy="116.80" r="4.1" fill="#1c6ee4" stroke="#fff" stroke-width="0.6"/>
<circle cx="595.10" cy="118.80" r="4.1" fill="#1c6ee4" stroke="#fff" stroke-width="0.6"/>
<circle cx="579.40" cy="123.20" r="4.1" fill="#1c6ee4" stroke="#fff" stroke-width="0.6"/>
<circle cx="589.60" cy="132.10" r="4.1" fill="#1c6ee4" stroke="#fff" stroke-width="0.6"/>
<circle cx="587.00" cy="133.20" r="4.1" fill="#1c6ee4" stroke="#fff" stroke-width="0.6"/>
<circle cx="575.80" cy="137.80" r="4.1" fill="#1c6ee4" stroke="#fff" stroke-width="0.6"/>
<circle cx="574.50" cy="139.00" r="4.1" fill="#1c6ee4" stroke="#fff" stroke-width="0.6"/>
<circle cx="583.30" cy="140.80" r="4.1" fill="#1c6ee4" stroke="#fff" stroke-width="0.6"/>
<circle cx="585.70" cy="146.30" r="4.1" fill="#1c6ee4" stroke="#fff" stroke-width="0.6"/>
<circle cx="595.30" cy="140.00" r="4.1" fill="#1c6ee4" stroke="#fff" stroke-width="0.6"/>
<circle cx="572.90" cy="150.00" r="4.1" fill="#1c6ee4" stroke="#fff" stroke-width="0.6"/>
<circle cx="581.00" cy="151.20" r="4.1" fill="#1c6ee4" stroke="#fff" stroke-width="0.6"/>
<circle cx="566.90" cy="154.70" r="4.1" fill="#1c6ee4" stroke="#fff" stroke-width="0.6"/>
<circle cx="552.30" cy="132.30" r="4.1" fill="#1c6ee4" stroke="#fff" stroke-width="0.6"/>
<circle cx="540.20" cy="138.90" r="4.1" fill="#1c6ee4" stroke="#fff" stroke-width="0.6"/>
<circle cx="556.00" cy="139.00" r="4.1" fill="#1c6ee4" stroke="#fff" stroke-width="0.6"/>
<circle cx="557.80" cy="142.40" r="4.1" fill="#1c6ee4" stroke="#fff" stroke-width="0.6"/>
<circle cx="555.00" cy="167.70" r="4.1" fill="#1c6ee4" stroke="#fff" stroke-width="0.6"/>
<circle cx="597.60" cy="167.50" r="4.1" fill="#1c6ee4" stroke="#fff" stroke-width="0.6"/>
<rect x="629.50" y="156.10" width="11.00" height="11.00" rx="1.2" fill="#8c8c8c" stroke="#a8a8a8" stroke-width="1"/><path d="M630.10,156.70 L639.90,166.50 M630.10,166.50 L639.90,156.70" stroke="#fff" stroke-width="1.10"/>
<rect x="629.70" y="98.50" width="11.00" height="11.00" rx="1.2" fill="#8c8c8c" stroke="#a8a8a8" stroke-width="1"/><path d="M630.30,99.10 L640.10,108.90 M630.30,108.90 L640.10,99.10" stroke="#fff" stroke-width="1.10"/>
<rect x="629.60" y="91.40" width="11.20" height="11.20" rx="1.2" fill="#5b9bd5" stroke="#8dbbe6" stroke-width="1"/><path d="M630.20,92.00 L640.20,102.00 M630.20,102.00 L640.20,92.00" stroke="#fff" stroke-width="1.10"/>
<path d="M639.6,85.4 L634.5,91.5" stroke="#5b9bd5" stroke-width="0.8"/>
<path d="M638.5,108 L653,124.5 M653.5,138.3 L637.5,155.5" stroke="#7a7a7a" stroke-width="0.6"/>
<text x="636.44" y="134.7" font-size="13.53" fill="#8a8a8a" font-weight="bold" textLength="34.14" lengthAdjust="spacingAndGlyphs">DMM</text>
<text x="603.84" y="83.2" font-size="12.69" fill="#5b9bd5" font-weight="bold" textLength="65.59" lengthAdjust="spacingAndGlyphs">AOC fluid</text>
<text x="652.96" y="58.7" font-size="16.55" fill="#000" font-weight="bold" textLength="9.8" lengthAdjust="spacingAndGlyphs">b</text>
<text x="459.72" y="240.9" font-size="9.89" fill="#e8732e" textLength="21.63" lengthAdjust="spacingAndGlyphs">0.8%</text>
<text x="492.63" y="238.1" font-size="9.89" fill="#e8732e" textLength="21.11" lengthAdjust="spacingAndGlyphs">0.6%</text>
<text x="531.94" y="232.6" font-size="9.89" fill="#e8732e" textLength="20.49" lengthAdjust="spacingAndGlyphs">0.4%</text>
<text x="576.34" y="220.7" font-size="9.89" fill="#e8732e" textLength="20.7" lengthAdjust="spacingAndGlyphs">0.2%</text>
<path d="M470.2,244.6 Q470.4,247.6 473,247.6 Q535,243 585,227 Q588.6,225.8 588.8,223.6" fill="none" stroke="#e8732e" stroke-width="0.9"/>
<text x="0" y="0" font-size="12.4" fill="#e8732e" font-weight="bold" textLength="54.89" lengthAdjust="spacingAndGlyphs" transform="translate(505.29,256.75) rotate(-9.30)">Mélange</text>
<path d="M449.3,229.2 L404,231.5" stroke="#ed7d31" stroke-width="1.8"/>
<path d="M405.5,228.6 L397.2,232.1 L405.5,235.2 Z" fill="#ed7d31"/>
<text x="399.81" y="213.1" font-size="11.64" fill="#e8732e" font-weight="bold" textLength="30.57" lengthAdjust="spacingAndGlyphs">Meta-</text>
<text x="400.18" y="224.5" font-size="11.03" fill="#e8732e" font-weight="bold" textLength="52.47" lengthAdjust="spacingAndGlyphs">sediment</text>
<rect x="393.55" y="37.80" width="278.55" height="235.65" fill="none" stroke="#1e1e1e" stroke-width="1.4"/>
<path d="M393.55,67.50 h2.8 M393.55,126.40 h2.8 M393.55,185.20 h2.8 M393.55,244.10 h2.8 M393.55,96.95 h2.2 M393.55,155.80 h2.2 M393.55,214.65 h2.2" stroke="#1e1e1e" stroke-width="1.1"/>
<path d="M440.20,273.45 v-2.8 M486.50,273.45 v-2.8 M532.90,273.45 v-2.8 M579.50,273.45 v-2.8 M626.00,273.45 v-2.8" stroke="#1e1e1e" stroke-width="1.1"/>
<text x="366.76" y="70.9" font-size="11.04" fill="#1a1a1a" textLength="21.67" lengthAdjust="spacing">0.20</text>
<text x="366.78" y="129.8" font-size="10.61" fill="#1a1a1a" textLength="21.44" lengthAdjust="spacing">0.10</text>
<text x="366.79" y="188.7" font-size="10.32" fill="#1a1a1a" textLength="21.11" lengthAdjust="spacing">0.00</text>
<text x="363.82" y="247.8" font-size="10.61" fill="#1a1a1a" textLength="24.9" lengthAdjust="spacing">-0.10</text>
<text x="372.78" y="287.3" font-size="10.61" fill="#1a1a1a" textLength="34.11" lengthAdjust="spacing">0.5129</text>
<text x="468.48" y="287.3" font-size="10.61" fill="#1a1a1a" textLength="33.64" lengthAdjust="spacing">0.5130</text>
<text x="558.78" y="287.3" font-size="10.61" fill="#1a1a1a" textLength="33.04" lengthAdjust="spacing">0.5131</text>
<text x="651.48" y="287.3" font-size="10.61" fill="#1a1a1a" textLength="33.77" lengthAdjust="spacing">0.5132</text>
<text x="503.4" y="303.3" font-size="11.4" fill="#1a1a1a" textLength="59.4" lengthAdjust="spacingAndGlyphs"><tspan font-size="7.2" dy="-4.4">143</tspan><tspan dy="4.4">Nd/</tspan><tspan font-size="7.2" dy="-4.4">144</tspan><tspan dy="4.4">Nd</tspan></text>
<text transform="translate(361.6,193.5) rotate(-90)" font-size="11.2" fill="#1a1a1a" textLength="78.2" lengthAdjust="spacingAndGlyphs"><tspan>δ</tspan><tspan font-size="7.2" dy="-4.3">138/134</tspan><tspan dy="4.3">Ba (‰)</tspan></text>
<rect x="397.40" y="15.90" width="91.60" height="77.40" fill="#fff"/>
<path d="M408,81.8 L440,81.7 L459.7,79.3 C464,78 467,75.5 469,71 C471,66 472.3,58 472.5,49.7 L472.5,40 L469.6,40 L469.6,41.8 C469.4,48 468.8,53 468.4,57 C467.6,63 466.5,67 465.2,69.5 C463.5,72.5 461.5,74 459.7,74.6 L440,77.3 L408,79.8 Z" fill="#fde69a"/>
<path d="M457.5,75 L467,42 M460.5,74 L468.5,42 M463.5,72 L470,42" stroke="#d6e4cd" stroke-width="1.0" fill="none"/>
<path d="M408.6,82.6 L469.5,36" stroke="#4a6aa8" stroke-width="0.55"/>
<circle cx="465.60" cy="35.50" r="1.25" fill="#1c6ee4"/>
<circle cx="466.60" cy="37.90" r="1.25" fill="#1c6ee4"/>
<circle cx="465.60" cy="40.80" r="1.25" fill="#1c6ee4"/>
<circle cx="464.70" cy="43.80" r="1.25" fill="#1c6ee4"/>
<circle cx="467.60" cy="44.80" r="1.25" fill="#1c6ee4"/>
<circle cx="463.70" cy="47.80" r="1.25" fill="#1c6ee4"/>
<circle cx="466.60" cy="48.70" r="1.25" fill="#1c6ee4"/>
<circle cx="464.70" cy="49.70" r="1.25" fill="#1c6ee4"/>
<circle cx="468.60" cy="50.70" r="1.25" fill="#1c6ee4"/>
<circle cx="465.60" cy="57.60" r="1.25" fill="#1c6ee4"/>
<circle cx="469.60" cy="58.60" r="1.25" fill="#1c6ee4"/>
<circle cx="466.00" cy="46.00" r="1.25" fill="#1c6ee4"/>
<circle cx="467.80" cy="41.50" r="1.25" fill="#1c6ee4"/>
<circle cx="463.00" cy="45.50" r="1.25" fill="#1c6ee4"/>
<rect x="458.50" y="50.50" width="2.4" height="2.4" fill="#ed7d31"/>
<rect x="459.50" y="54.40" width="2.4" height="2.4" fill="#ed7d31"/>
<rect x="458.50" y="56.40" width="2.4" height="2.4" fill="#ed7d31"/>
<rect x="463.50" y="54.40" width="2.4" height="2.4" fill="#ed7d31"/>
<rect x="461.00" y="52.30" width="2.4" height="2.4" fill="#ed7d31"/>
<rect x="457.50" y="61.30" width="2.4" height="2.4" fill="#ed7d31"/>
<rect x="459.50" y="65.30" width="2.4" height="2.4" fill="#ed7d31"/>
<rect x="460.00" y="62.80" width="2.4" height="2.4" fill="#ed7d31"/>
<rect x="456.60" y="73.20" width="2.4" height="2.4" fill="#ed7d31"/>
<rect x="461.50" y="71.20" width="2.4" height="2.4" fill="#ed7d31"/>
<rect x="458.80" y="58.80" width="2.4" height="2.4" fill="#ed7d31"/>
<circle cx="470.60" cy="34.30" r="1.50" fill="#c8c8c8" stroke="#7a7a7a" stroke-width="0.70"/><path d="M469.55,33.25 L471.65,35.35 M469.55,35.35 L471.65,33.25" stroke="#7a7a7a" stroke-width="0.70"/>
<circle cx="470.60" cy="55.80" r="1.50" fill="#c8c8c8" stroke="#7a7a7a" stroke-width="0.70"/><path d="M469.55,54.75 L471.65,56.85 M469.55,56.85 L471.65,54.75" stroke="#7a7a7a" stroke-width="0.70"/>
<text x="471" y="48.2" font-size="6" fill="#8a8a8a" font-weight="bold" textLength="18" lengthAdjust="spacingAndGlyphs" stroke="#8a8a8a" stroke-width="0.22">DMM</text>
<text x="466.5" y="26.3" font-size="11.2" fill="#1a1a1a" stroke="#1a1a1a" stroke-width="0.12">b</text>
<text x="452.8" y="32" font-size="7" fill="#5b9bd5" font-weight="bold" textLength="34" lengthAdjust="spacingAndGlyphs" stroke="#5b9bd5" stroke-width="0.22">AOC fluid</text>
<rect x="398.2" y="46.7" width="22" height="19.2" fill="#f7c393"/>
<text x="398.3" y="59.3" font-size="7.6" fill="#262626" font-weight="bold" textLength="34.1" lengthAdjust="spacingAndGlyphs" stroke="#262626" stroke-width="0.22">Sediment</text>
<path d="M406.7,66.3 L409.9,66.3 L409.9,76.8 L411.6,76.8 L408.3,81 L405,76.8 L406.7,76.8 Z" fill="#fbe5d6" stroke="#ed7d31" stroke-width="0.6"/>
<circle cx="407.80" cy="83.40" r="2.70" fill="#fbe3d2" stroke="#ed7d31" stroke-width="0.75"/><path d="M405.91,81.51 L409.69,85.29 M405.91,85.29 L409.69,81.51" stroke="#ed7d31" stroke-width="0.75"/>
<text x="411.7" y="72.9" font-size="7.6" fill="#e8732e" font-weight="bold" textLength="19.2" lengthAdjust="spacingAndGlyphs" stroke="#e8732e" stroke-width="0.22">Meta-</text>
<text x="411.7" y="80.1" font-size="7.6" fill="#e8732e" font-weight="bold" textLength="35.7" lengthAdjust="spacingAndGlyphs" stroke="#e8732e" stroke-width="0.22">morphism</text>
<text x="398.2" y="91.6" font-size="7.6" fill="#e8732e" font-weight="bold" textLength="51.3" lengthAdjust="spacingAndGlyphs" stroke="#e8732e" stroke-width="0.22">Metasediment</text>

<path d="M451.5,93.30 H397.40 V15.90" fill="none" stroke="#6a6a6a" stroke-width="1.1"/>
<path d="M397.40,15.90 H451.5 M475,15.90 H489.00 V93.30 H475" fill="none" stroke="#6a6a6a" stroke-width="1.1"/>
<path d="M412.20,15.90 v1.8 M428.10,15.90 v1.8 M443.90,15.90 v1.8 M458.10,15.90 v1.8 M475.60,15.90 v1.8" stroke="#444" stroke-width="0.9"/>
<path d="M489.00,28.70 h-1.8 M489.00,38.00 h-1.8 M489.00,47.10 h-1.8 M489.00,56.50 h-1.8 M489.00,65.00 h-1.8 M489.00,75.00 h-1.8 M489.00,83.90 h-1.8" stroke="#444" stroke-width="0.9"/>
<rect x="451.5" y="15.9" width="23.5" height="77.4" fill="none" stroke="#5b9bd5" stroke-width="1.3"/>
<text x="395.6" y="14" font-size="7" fill="#1a1a1a" text-anchor="middle" textLength="20.8" lengthAdjust="spacingAndGlyphs" stroke="#1a1a1a" stroke-width="0.22">0.5122</text>
<text x="426.1" y="14" font-size="7" fill="#1a1a1a" text-anchor="middle" textLength="20.8" lengthAdjust="spacingAndGlyphs" stroke="#1a1a1a" stroke-width="0.22">0.5126</text>
<text x="457.7" y="14" font-size="7" fill="#1a1a1a" text-anchor="middle" textLength="20.8" lengthAdjust="spacingAndGlyphs" stroke="#1a1a1a" stroke-width="0.22">0.5130</text>
<text x="487.5" y="14" font-size="7" fill="#1a1a1a" text-anchor="middle" textLength="20.8" lengthAdjust="spacingAndGlyphs" stroke="#1a1a1a" stroke-width="0.22">0.5134</text>
<text x="427.3" y="6.9" font-size="7.6" fill="#1a1a1a" stroke="#1a1a1a" stroke-width="0.2" textLength="36.3" lengthAdjust="spacingAndGlyphs"><tspan font-size="4.2" dy="-3.3">143</tspan><tspan dy="3.3">Nd/</tspan><tspan font-size="4.2" dy="-3.3">144</tspan><tspan dy="3.3">Nd</tspan></text>
<text x="0" y="0" font-size="7" fill="#1a1a1a" text-anchor="middle" transform="translate(491.2,29.30) rotate(90)" stroke="#1a1a1a" stroke-width="0.22">0.20</text>
<text x="0" y="0" font-size="7" fill="#1a1a1a" text-anchor="middle" transform="translate(491.2,47.70) rotate(90)" stroke="#1a1a1a" stroke-width="0.22">0.10</text>
<text x="0" y="0" font-size="7" fill="#1a1a1a" text-anchor="middle" transform="translate(491.2,64.00) rotate(90)" stroke="#1a1a1a" stroke-width="0.22">0</text>
<text x="0" y="0" font-size="7" fill="#1a1a1a" text-anchor="middle" transform="translate(491.2,81.50) rotate(90)" stroke="#1a1a1a" stroke-width="0.22">-0.10</text>
<text transform="translate(497.4,38.6) rotate(90)" font-size="7.4" fill="#1a1a1a" stroke="#1a1a1a" stroke-width="0.2"><tspan>δ</tspan><tspan font-size="4.6" dy="-2.8">138/134</tspan><tspan dy="2.8">Ba</tspan></text>
<path d="M451.5,15.9 L393.55,37.8 M475.0,15.9 L672.1,37.8" stroke="#6aa6dc" stroke-width="1.0" stroke-dasharray="5.2,2.6" fill="none"/>
</svg>
</body></html>
